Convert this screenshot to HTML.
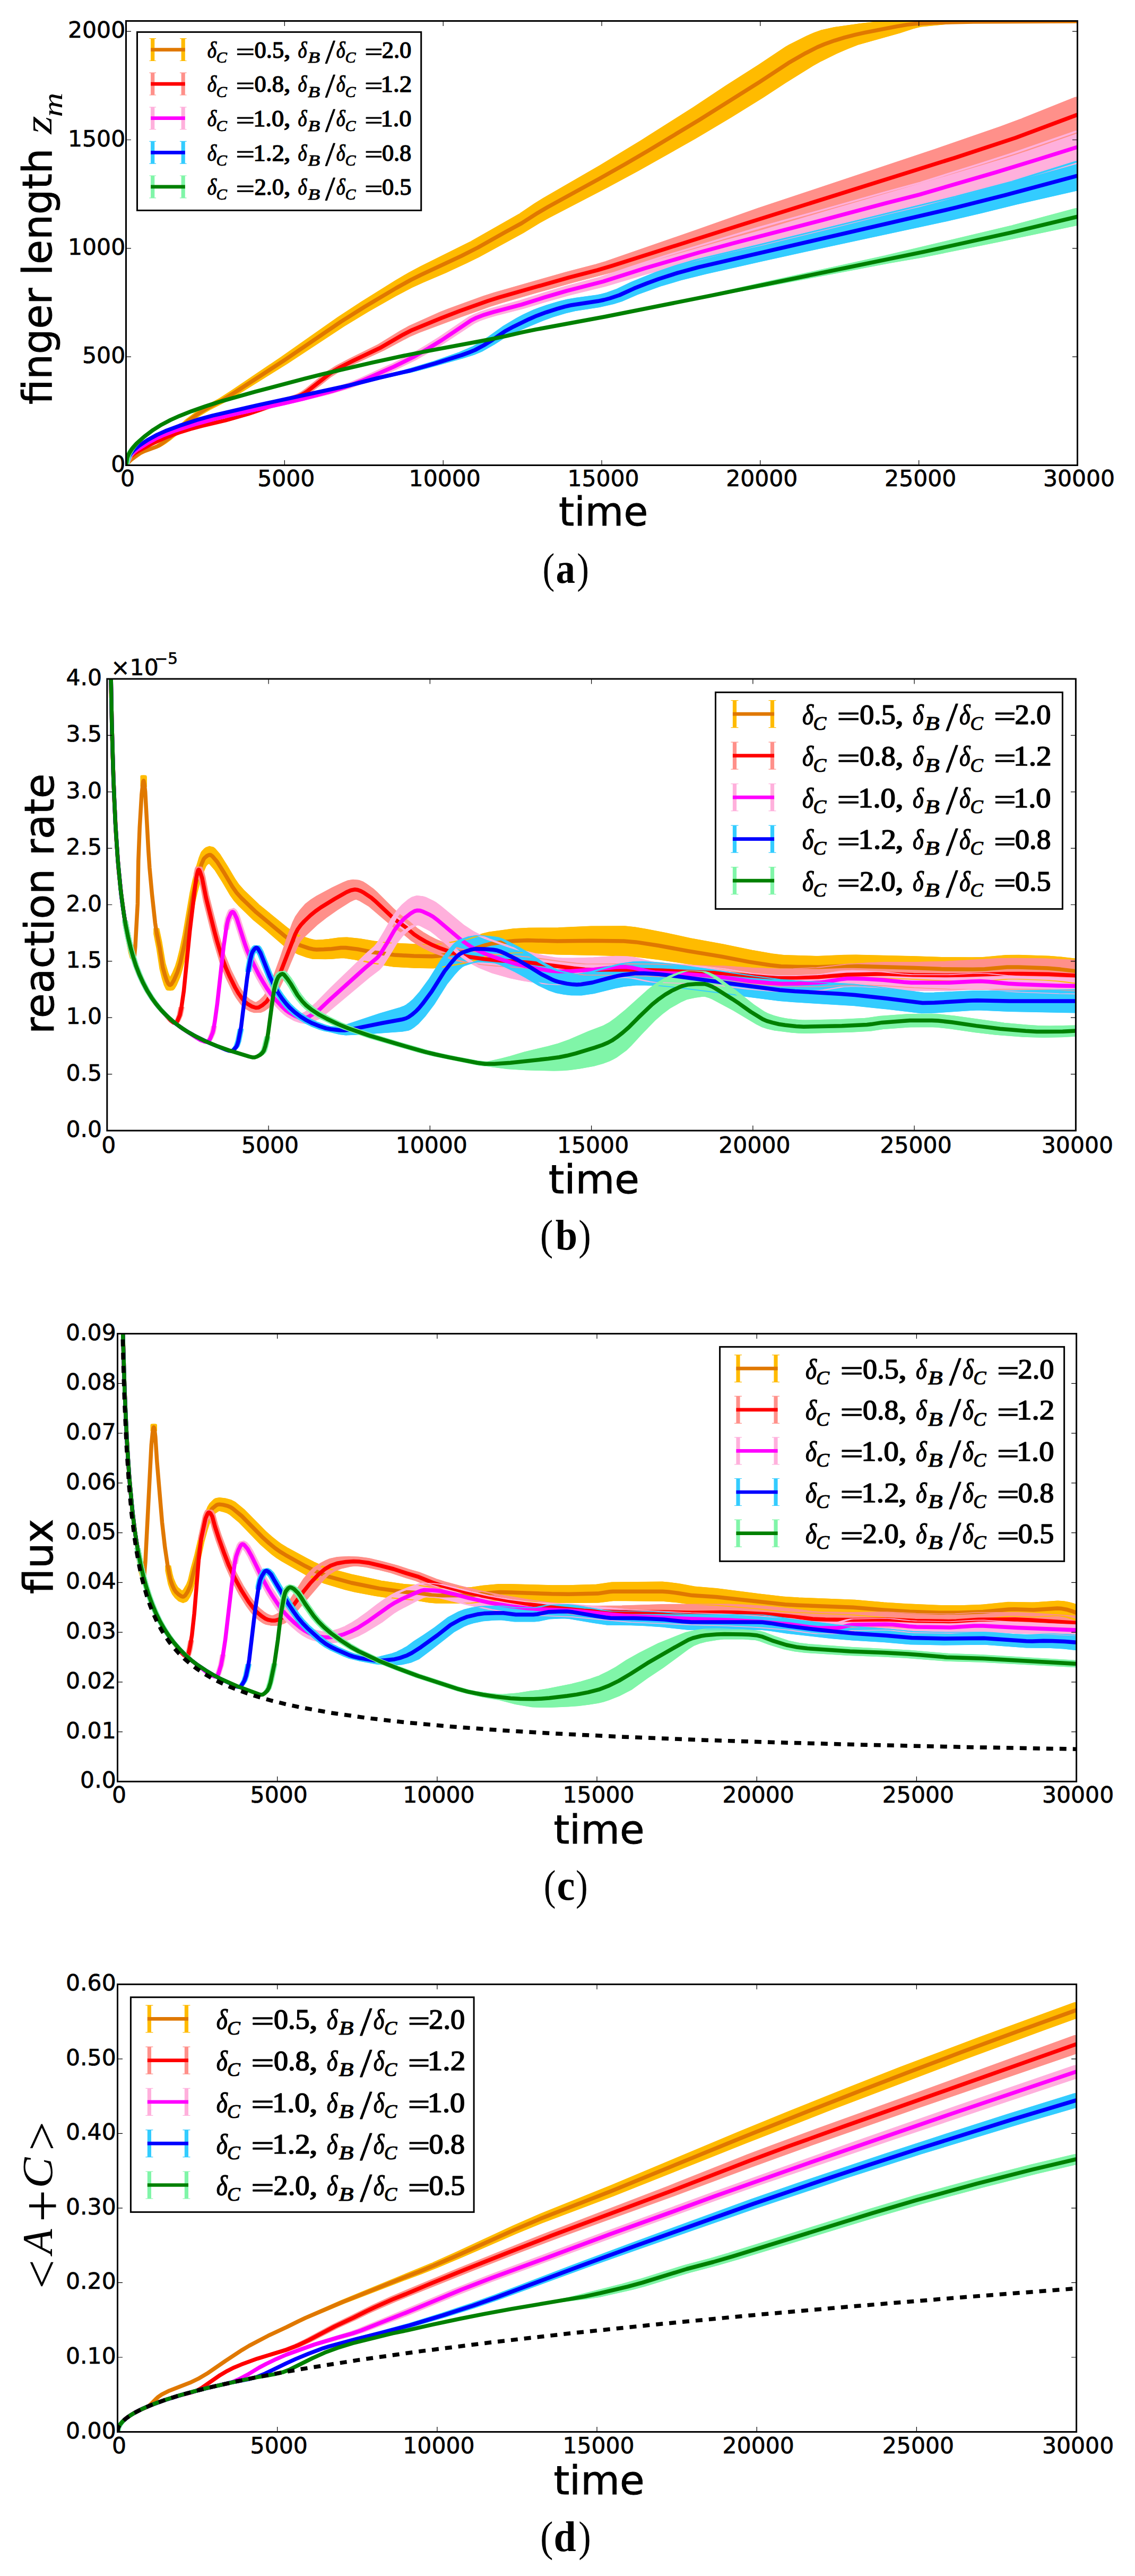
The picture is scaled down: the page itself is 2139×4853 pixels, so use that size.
<!DOCTYPE html><html><head><meta charset="utf-8"><title>figure</title><style>html,body{margin:0;padding:0;background:#fff}svg{display:block}text{font-family:"DejaVu Sans","Liberation Sans",sans-serif;fill:#000}.tk{font-size:42.5px;stroke:#000;stroke-width:.7px}.lab{font-size:75px;stroke:#000;stroke-width:.9px}.ylab{font-size:76px;stroke:#000;stroke-width:.9px}.mi{font-family:"Liberation Serif","DejaVu Serif",serif;font-style:italic}.mr{font-family:"Liberation Serif","DejaVu Serif",serif}.mt{font-family:"Liberation Serif","DejaVu Serif",serif;font-style:italic}.mn{font-family:"Liberation Serif","DejaVu Serif",serif}.cap{font-family:"Liberation Serif","DejaVu Serif",serif;font-size:81px}</style></head><body>
<svg width="2139" height="4853" viewBox="0 0 2139 4853">
<rect width="2139" height="4853" fill="#fff"/>
<defs>
<clipPath id="clipa"><rect x="237.5" y="39.5" width="1793.0" height="837.0"/></clipPath>
<clipPath id="clipb"><rect x="201.8" y="1279.0" width="1825.6000000000001" height="851.0"/></clipPath>
<clipPath id="clipc"><rect x="221.5" y="2512.6" width="1807.1" height="843.7000000000003"/></clipPath>
<clipPath id="clipd"><rect x="221.5" y="3738.3" width="1807.1" height="843.1999999999998"/></clipPath>
</defs>
<!-- plot a -->
<defs><path id="ea0" d="M30.22,876.5L30.79,870.6L31.36,866.2L33.56,853.4L34.70,848.8L37.56,840.2L38.23,837.4L39.09,832.7L40.23,825.8L41.76,815.5L45.10,790.5L47.29,777.6L49.58,766L53.21,750.3L56.07,735.9L68.00,672.6L81.64,597.3L87.17,568.9L95.47,528.2L98.62,513.6L101.48,501.7L113.51,454.7L125.15,402.7L128.77,383.5L130.77,373.7L144.42,311.6L154.34,264.3L166.84,202.1L174.69,161.2L182.58,121.6L188.97,88.2L189.90,83.8L194.03,67.6L195.84,61.4L197.50,56.7L200.61,51.4L206.81,44.4L215.26,36.9L218.07,37L220.31,38.1L225.23,38.9L231.71,41.2L244.88,40.3L260.11,40L260.11,40L244.79,40.3L231.71,41.2L220.31,50.1L218.26,54.3L215.26,61.9L205.29,83.9L202.71,91.7L200.04,100.9L196.32,115.2L194.22,124.4L187.73,156.1L182.29,184.1L174.69,221.2L166.08,261.4L152.43,321.9L144.99,353.3L130.97,410.5L128.77,420.2L124.86,438.9L114.17,484.5L111.31,495.6L106.26,514L100.82,532.2L98.15,541.9L94.33,557.7L87.65,587.3L81.93,614.5L68.24,685.3L56.26,744.2L53.30,757.9L49.58,772.8L47.29,783.6L45.10,795.7L41.76,819.6L40.23,829.3L39.09,835.8L38.23,840.2L37.56,842.8L34.70,850.4L33.56,854.6L31.36,866.6L30.79,870.8L30.22,876.5Z"/><path id="ea1" d="M30.22,876.5L30.60,868.6L30.98,863L31.46,858.8L32.32,853.6L33.36,848.4L36.13,836.6L38.04,829.3L40.14,822.2L42.91,813.9L45.67,806.9L54.07,790L59.51,777.3L62.27,769.8L67.81,752.9L70.86,745.1L72.10,741.2L72.96,737.3L73.91,732L79.16,698.9L81.16,689L84.50,675.1L91.05,649.8L96.62,623L98.62,614.2L106.06,588L108.07,581.7L116.46,557.8L119.04,551.2L136.31,512.5L143.37,498.1L145.75,492.4L167.79,432.6L182.29,392.3L224.85,280.8L240.40,238.4L245.45,223.7L258.33,183.1L260.11,183.1L260.11,249.1L258.33,249.1L245.64,284.1L240.68,296.7L226.47,330.6L197.50,396.7L182.29,432.3L172.85,452.7L146.23,513L136.98,532L128.68,550.3L119.71,570.7L116.85,577.8L110.17,596.5L99.86,626.8L97.57,634.5L91.47,660.2L84.31,686.1L80.50,701.3L78.78,710L76.30,725.4L73.63,741.1L72.67,745.9L71.91,748.8L70.86,751.8L68.00,758.4L62.46,774.3L60.08,780.5L54.45,793L47.87,804.9L45.00,810.8L41.38,820.1L38.04,830.6L34.32,844.9L32.79,851.5L31.74,857.1L31.27,860.4L30.88,864.2L30.22,876.5Z"/><path id="ea2" d="M30.22,876.5L30.69,865.5L31.07,859.8L31.65,854.6L32.70,847.9L35.18,835.5L37.28,826.2L39.38,818.6L41.86,810.9L46.63,798.6L52.35,786L56.45,778.2L68.09,757.4L75.84,741.9L82.21,726.7L84.41,720.5L86.79,712.8L94.52,685.3L99.10,667.2L102.73,650.4L105.87,635L112.93,597.2L114.17,592.1L115.89,586.8L118.28,580.9L125.15,566.1L130.49,552.6L135.93,539.6L144.27,522.2L151.96,501.5L159.97,481.1L182.29,428L197.56,394.8L212.16,362.2L221.12,343L235.82,306.8L243.13,288.2L258.33,247L260.11,247L260.11,307L258.33,307L236.39,355L219.88,389.8L212.35,403.7L197.56,432.8L182.29,462L172.85,478.4L166.74,490.5L154.15,517.2L144.89,538.9L136.02,556.1L130.58,568.2L125.05,581.3L118.37,594.6L116.27,599.4L114.36,604.7L113.03,609.8L105.78,647.4L102.63,662.4L99.10,678.3L94.33,696.5L87.84,718.4L83.45,731.3L78.21,743.2L69.14,760.5L52.26,789.1L46.53,801L41.86,812.4L39.38,819.8L37.28,827.2L35.18,836.1L32.70,848.2L31.65,854.8L31.07,859.9L30.69,865.5L30.22,876.5Z"/><path id="ea3" d="M30.22,876.5L30.69,863.7L31.07,857.2L31.74,850.7L33.17,840.7L35.18,829.9L37.28,820.4L39.18,813.4L42.14,804.3L46.34,792.7L50.44,783.5L61.61,762.6L84.03,723.7L98.15,695.6L104.54,680.4L110.64,663.7L113.98,652.5L115.41,646.2L117.70,634.4L121.23,614.5L124.48,599.2L126.10,592.5L128.49,583.6L131.63,574.7L134.59,567.8L136.50,564.1L138.41,561.5L143.46,556.1L144.51,554.5L146.04,551.2L148.52,544.3L151.96,531.3L157.77,512.6L162.07,500.9L167.09,489.2L182.29,460.9L229.52,369.6L243.13,341.2L258.33,304L260.11,304L260.11,358L258.33,358L243.13,385.2L234.77,401.5L226.47,416.7L197.50,465.6L182.29,491.9L168.65,516.2L162.64,528L158.06,538.6L152.24,555.1L148.52,567.8L146.52,572.8L143.18,578.6L137.26,585.9L134.97,590.2L131.92,597.6L129.63,604L122.47,627.6L121.04,633.2L117.99,648.6L114.94,662.2L113.12,668.2L110.64,674.6L101.68,694.3L98.43,700.9L91.05,713.4L82.88,729.3L63.04,762.2L55.12,776.2L48.92,787.9L43.86,800.2L39.95,811.6L37.85,818.6L35.75,827.5L33.56,838.7L32.22,847.2L31.55,852.3L31.17,856.1L30.69,863.8L30.22,876.5Z"/><path id="ea4" d="M30.22,876.5L30.41,866.3L30.69,858.4L31.36,849L32.32,839.2L33.65,828.9L35.56,816.6L37.37,806.6L39.18,798.1L41.09,790.4L43.10,783.4L45.86,774.8L48.53,767.4L54.16,753.3L63.23,733.7L76.39,706.7L89.65,682.4L95.19,672.9L101.48,662.9L118.56,637.7L129.25,619.6L146.52,594.4L159.48,574.1L166.74,561.7L182.29,534.2L212.71,481.7L243.13,424.8L258.33,392.8L260.11,392.8L260.11,423.6L258.33,423.6L238.77,456L220.31,485.4L212.71,495.7L182.29,541.2L159.48,574.1L144.32,597.7L128.77,620.3L118.56,637.7L101.58,662.8L95.38,672.6L89.37,682.9L74.96,709.4L61.99,736.3L52.83,756.4L46.15,774L43.29,782.7L41.19,790L38.80,799.8L36.80,809.6L34.70,821.9L32.79,835.2L31.74,844.7L30.79,856.8L30.50,862.7L30.22,876.5Z"/></defs><g clip-path="url(#clipa)"><g transform="scale(7.86,1)" stroke-linejoin="round"><use href="#ea0" fill="#FFBB00" stroke="#FFBB00" stroke-width="1.145"/><use href="#ea1" fill="#FF908A" stroke="#FF908A" stroke-width="1.145"/><use href="#ea2" fill="#FFB0DC" stroke="#FFB0DC" stroke-width="1.145"/><use href="#ea3" fill="#33CCFF" stroke="#33CCFF" stroke-width="1.145"/><use href="#ea4" fill="#80F5A8" stroke="#80F5A8" stroke-width="1.145"/></g><use href="#ea0" transform="scale(7.86,1)" fill="none" stroke="#FFBB00" stroke-width="1.4"/><path d="M237.5,876.5L242,870.7L246.5,866.4L263.7,854L272.7,849.6L295.2,841.5L300.5,838.8L307.2,834.3L316.2,827.6L328.2,817.5L354.5,793.1L371.7,780.6L389.7,769.4L419,753.9L441.5,740L536.3,678.3L642.4,606.1L686.7,578.3L746.7,542.6L773.7,527.6L793.2,517.9L869.7,482.1L900.4,466.5L951.4,437.8L982.9,420.6L1012.9,401.4L1032.4,390L1129.9,336.5L1179.4,308.6L1221.4,284L1318.1,225.8L1431.3,154.6L1486.1,118.6L1518.3,100.1L1540.1,89L1553.6,83.3L1573.1,76.3L1591.8,70.6L1612.1,65.3L1630.1,61.4L1689.3,49.9L1710.3,46.4L1724.5,44.7L1759,42.8L1834.8,41L2044.5,40" fill="none" stroke="#E07800" stroke-width="7.5" stroke-linejoin="round" stroke-linecap="butt"/><use href="#ea1" transform="scale(7.86,1)" fill="none" stroke="#FF908A" stroke-width="1.4"/><path d="M237.5,876.5L240.5,868.6L243.5,863L247.2,858.9L254,853.7L262.2,848.7L284,837.1L299,830L315.5,822.9L337.2,814.9L359,808.1L381.5,802.2L425,791.8L467.7,779.6L489.5,772.3L533.7,755.6L557.7,748.2L566.7,744.7L573.5,741L581,735.7L622.2,703.4L630.4,698L640.9,692.1L664.9,679.9L715.9,655.7L759.4,630.6L774.4,622.8L832.2,599L866.7,585.8L919.2,567L940.2,560.4L1072.1,522.8L1126.1,508.9L1153.1,500.9L1388.6,426.2L1799.5,297.3L1914.3,259.5L2030.5,216.1L2044.5,216.1" fill="none" stroke="#FF0000" stroke-width="7.5" stroke-linejoin="round" stroke-linecap="butt"/><use href="#ea2" transform="scale(7.86,1)" fill="none" stroke="#FFB0DC" stroke-width="1.4"/><path d="M237.5,876.5L241.2,865.5L244.2,859.8L248.7,854.7L257,848L276.5,835.8L293,826.7L309.5,819.2L329,811.7L366.5,799.7L411.5,787.5L443.7,779.9L536.3,759.6L571.2,751.3L600.4,743.7L627.4,736.3L649.2,729.6L666.4,723.5L685.9,715.7L742.2,690.9L778.9,672.7L807.4,656.2L832.2,641L887.7,603.7L898.2,598.4L912.4,593.1L929.7,587.8L982.9,573.8L1026.4,560.2L1068.4,547.9L1136.6,530.4L1215.4,505.4L1318.1,475.5L1383.3,457.8L1549.1,414.8L1669.1,382.8L1732.8,366.6L1876.8,324.6L1955.5,300.5L2030.5,277L2044.5,277" fill="none" stroke="#FF00FF" stroke-width="7.5" stroke-linejoin="round" stroke-linecap="butt"/><use href="#ea3" transform="scale(7.86,1)" fill="none" stroke="#33CCFF" stroke-width="1.4"/><path d="M237.5,876.5L241.2,863.7L242.7,859.9L245,856.1L248,852.3L253.2,847.1L262.2,839.7L279.5,828.2L296,819.1L311.7,812.1L338.7,801.9L371,791.2L400.2,783.2L485.7,763.3L658.2,726L715.2,711.5L773.7,698L820.9,684.4L870.4,668.9L883.2,664.3L895.2,659.4L911.7,650.5L928.2,640.2L951.4,624.3L967.9,615.3L997.1,601.2L1011.4,594.9L1029.4,588.3L1050.4,581.7L1064.6,577.6L1075.9,575L1126.9,567.3L1138.1,565L1149.4,562L1167.4,556L1195.1,543.3L1219.1,533.7L1240.9,525.7L1276.1,514.4L1316.6,503.4L1801,391.2L1893.3,367.9L2030.5,331L2044.5,331" fill="none" stroke="#0000FF" stroke-width="7.5" stroke-linejoin="round" stroke-linecap="butt"/><use href="#ea4" transform="scale(7.86,1)" fill="none" stroke="#80F5A8" stroke-width="1.4"/><path d="M237.5,876.5L239.7,862.7L242,856.8L245,851.4L249.5,844.7L257.7,835.2L272,822.5L288.5,810.1L304.2,800.2L321.5,791.1L338.7,783.4L361.2,774.6L386.7,765.6L413,757.1L481.2,737.9L575,713.1L607.9,704.9L700.2,683.4L758.7,670.7L802.9,661.9L925.2,639L953.7,633.2L983.6,626.2L1009.1,620.9L1139.6,596.7L1339.8,556.9L1741,474.4L1904.5,438.3L2030.5,408.2L2044.5,408.2" fill="none" stroke="#008000" stroke-width="7.5" stroke-linejoin="round" stroke-linecap="butt"/></g>
<rect x="237.5" y="39.5" width="1793.0" height="837.0" fill="none" stroke="#000" stroke-width="3"/><path d="M237.5,876.5v-9.5M237.5,39.5v9.5M536.3,876.5v-9.5M536.3,39.5v9.5M835.2,876.5v-9.5M835.2,39.5v9.5M1134.0,876.5v-9.5M1134.0,39.5v9.5M1432.8,876.5v-9.5M1432.8,39.5v9.5M1731.7,876.5v-9.5M1731.7,39.5v9.5M2030.5,876.5v-9.5M2030.5,39.5v9.5M237.5,876.5h9.5M2030.5,876.5h-9.5M237.5,672.2h9.5M2030.5,672.2h-9.5M237.5,467.8h9.5M2030.5,467.8h-9.5M237.5,263.5h9.5M2030.5,263.5h-9.5M237.5,59.2h9.5M2030.5,59.2h-9.5" stroke="#000" stroke-width="1.2" fill="none"/>
<g class="tk"><text x="240.5" y="916.0" text-anchor="middle">0</text><text x="539.3" y="916.0" text-anchor="middle">5000</text><text x="838.2" y="916.0" text-anchor="middle">10000</text><text x="1137.0" y="916.0" text-anchor="middle">15000</text><text x="1435.8" y="916.0" text-anchor="middle">20000</text><text x="1734.7" y="916.0" text-anchor="middle">25000</text><text x="2033.5" y="916.0" text-anchor="middle">30000</text><text x="236.2" y="888.5" text-anchor="end">0</text><text x="236.2" y="684.2" text-anchor="end">500</text><text x="236.2" y="479.8" text-anchor="end">1000</text><text x="236.2" y="275.5" text-anchor="end">1500</text><text x="236.2" y="71.2" text-anchor="end">2000</text></g>
<rect x="258.5" y="60.4" width="535.2" height="336.0" fill="#fff" stroke="#000" stroke-width="3"/><path d="M287.7,72.7V114.5" stroke="#FFBB00" stroke-width="7.2"/><path d="M281.4,72.7h12.7M281.4,114.5h12.7" stroke="#FFBB00" stroke-width="1.2"/><path d="M345.2,72.7V114.5" stroke="#FFBB00" stroke-width="7.2"/><path d="M338.9,72.7h12.7M338.9,114.5h12.7" stroke="#FFBB00" stroke-width="1.2"/><path d="M284.1,93.6H348.8" stroke="#E07800" stroke-width="6.7"/><text x="390.8" y="108.9" font-size="43.4" class="mi" stroke="#000" stroke-width="1.15" stroke-linejoin="round" textLength="17.3" lengthAdjust="spacingAndGlyphs">δ</text><text x="407.5" y="118.1" font-size="29.1" class="mi" stroke="#000" stroke-width="0.90" stroke-linejoin="round" textLength="20.3" lengthAdjust="spacingAndGlyphs">C</text><text x="444.5" y="111.7" font-size="43.4" class="mr" stroke="#000" stroke-width="1.07" stroke-linejoin="round" textLength="35.5" lengthAdjust="spacingAndGlyphs">=</text><text x="479.6" y="108.9" font-size="43.4" class="mr" stroke="#000" stroke-width="1.40" stroke-linejoin="round" textLength="55.5" lengthAdjust="spacingAndGlyphs">0.5</text><text x="534.7" y="108.9" font-size="43.4" class="mr" stroke="#000" stroke-width="1.40" stroke-linejoin="round" textLength="12.8" lengthAdjust="spacingAndGlyphs">,</text><text x="561.6" y="108.9" font-size="43.4" class="mi" stroke="#000" stroke-width="1.15" stroke-linejoin="round" textLength="16.9" lengthAdjust="spacingAndGlyphs">δ</text><text x="580.2" y="118.1" font-size="29.1" class="mi" stroke="#000" stroke-width="0.90" stroke-linejoin="round" textLength="22.8" lengthAdjust="spacingAndGlyphs">B</text><text x="613.1" y="118.7" font-size="63.2" class="mr" stroke="#000" stroke-width="0.82" stroke-linejoin="round" textLength="18.5" lengthAdjust="spacingAndGlyphs">/</text><text x="633.8" y="108.9" font-size="43.4" class="mi" stroke="#000" stroke-width="1.15" stroke-linejoin="round" textLength="16.8" lengthAdjust="spacingAndGlyphs">δ</text><text x="650.5" y="118.1" font-size="29.1" class="mi" stroke="#000" stroke-width="0.90" stroke-linejoin="round" textLength="19.9" lengthAdjust="spacingAndGlyphs">C</text><text x="687.2" y="111.7" font-size="43.4" class="mr" stroke="#000" stroke-width="1.07" stroke-linejoin="round" textLength="34.1" lengthAdjust="spacingAndGlyphs">=</text><text x="719.7" y="108.9" font-size="43.4" class="mr" stroke="#000" stroke-width="1.40" stroke-linejoin="round" textLength="55.7" lengthAdjust="spacingAndGlyphs">2.0</text><path d="M287.7,137.2V179.0" stroke="#FF908A" stroke-width="7.2"/><path d="M281.4,137.2h12.7M281.4,179.0h12.7" stroke="#FF908A" stroke-width="1.2"/><path d="M345.2,137.2V179.0" stroke="#FF908A" stroke-width="7.2"/><path d="M338.9,137.2h12.7M338.9,179.0h12.7" stroke="#FF908A" stroke-width="1.2"/><path d="M284.1,158.1H348.8" stroke="#FF0000" stroke-width="6.7"/><text x="390.8" y="173.4" font-size="43.4" class="mi" stroke="#000" stroke-width="1.15" stroke-linejoin="round" textLength="17.3" lengthAdjust="spacingAndGlyphs">δ</text><text x="407.5" y="182.6" font-size="29.1" class="mi" stroke="#000" stroke-width="0.90" stroke-linejoin="round" textLength="20.3" lengthAdjust="spacingAndGlyphs">C</text><text x="444.5" y="176.2" font-size="43.4" class="mr" stroke="#000" stroke-width="1.07" stroke-linejoin="round" textLength="35.5" lengthAdjust="spacingAndGlyphs">=</text><text x="479.6" y="173.4" font-size="43.4" class="mr" stroke="#000" stroke-width="1.40" stroke-linejoin="round" textLength="55.4" lengthAdjust="spacingAndGlyphs">0.8</text><text x="534.7" y="173.4" font-size="43.4" class="mr" stroke="#000" stroke-width="1.40" stroke-linejoin="round" textLength="12.8" lengthAdjust="spacingAndGlyphs">,</text><text x="561.6" y="173.4" font-size="43.4" class="mi" stroke="#000" stroke-width="1.15" stroke-linejoin="round" textLength="16.9" lengthAdjust="spacingAndGlyphs">δ</text><text x="580.2" y="182.6" font-size="29.1" class="mi" stroke="#000" stroke-width="0.90" stroke-linejoin="round" textLength="22.8" lengthAdjust="spacingAndGlyphs">B</text><text x="613.1" y="183.2" font-size="63.2" class="mr" stroke="#000" stroke-width="0.82" stroke-linejoin="round" textLength="18.5" lengthAdjust="spacingAndGlyphs">/</text><text x="633.8" y="173.4" font-size="43.4" class="mi" stroke="#000" stroke-width="1.15" stroke-linejoin="round" textLength="16.8" lengthAdjust="spacingAndGlyphs">δ</text><text x="650.5" y="182.6" font-size="29.1" class="mi" stroke="#000" stroke-width="0.90" stroke-linejoin="round" textLength="19.9" lengthAdjust="spacingAndGlyphs">C</text><text x="687.2" y="176.2" font-size="43.4" class="mr" stroke="#000" stroke-width="1.07" stroke-linejoin="round" textLength="34.1" lengthAdjust="spacingAndGlyphs">=</text><text x="717.5" y="173.4" font-size="43.4" class="mr" stroke="#000" stroke-width="1.40" stroke-linejoin="round" textLength="58.8" lengthAdjust="spacingAndGlyphs">1.2</text><path d="M287.7,201.8V243.6" stroke="#FFB0DC" stroke-width="7.2"/><path d="M281.4,201.8h12.7M281.4,243.6h12.7" stroke="#FFB0DC" stroke-width="1.2"/><path d="M345.2,201.8V243.6" stroke="#FFB0DC" stroke-width="7.2"/><path d="M338.9,201.8h12.7M338.9,243.6h12.7" stroke="#FFB0DC" stroke-width="1.2"/><path d="M284.1,222.7H348.8" stroke="#FF00FF" stroke-width="6.7"/><text x="390.8" y="238.0" font-size="43.4" class="mi" stroke="#000" stroke-width="1.15" stroke-linejoin="round" textLength="17.3" lengthAdjust="spacingAndGlyphs">δ</text><text x="407.5" y="247.2" font-size="29.1" class="mi" stroke="#000" stroke-width="0.90" stroke-linejoin="round" textLength="20.3" lengthAdjust="spacingAndGlyphs">C</text><text x="444.5" y="240.8" font-size="43.4" class="mr" stroke="#000" stroke-width="1.07" stroke-linejoin="round" textLength="35.5" lengthAdjust="spacingAndGlyphs">=</text><text x="477.2" y="238.0" font-size="43.4" class="mr" stroke="#000" stroke-width="1.40" stroke-linejoin="round" textLength="57.9" lengthAdjust="spacingAndGlyphs">1.0</text><text x="534.7" y="238.0" font-size="43.4" class="mr" stroke="#000" stroke-width="1.40" stroke-linejoin="round" textLength="12.8" lengthAdjust="spacingAndGlyphs">,</text><text x="561.6" y="238.0" font-size="43.4" class="mi" stroke="#000" stroke-width="1.15" stroke-linejoin="round" textLength="16.9" lengthAdjust="spacingAndGlyphs">δ</text><text x="580.2" y="247.2" font-size="29.1" class="mi" stroke="#000" stroke-width="0.90" stroke-linejoin="round" textLength="22.8" lengthAdjust="spacingAndGlyphs">B</text><text x="613.1" y="247.8" font-size="63.2" class="mr" stroke="#000" stroke-width="0.82" stroke-linejoin="round" textLength="18.5" lengthAdjust="spacingAndGlyphs">/</text><text x="633.8" y="238.0" font-size="43.4" class="mi" stroke="#000" stroke-width="1.15" stroke-linejoin="round" textLength="16.8" lengthAdjust="spacingAndGlyphs">δ</text><text x="650.5" y="247.2" font-size="29.1" class="mi" stroke="#000" stroke-width="0.90" stroke-linejoin="round" textLength="19.9" lengthAdjust="spacingAndGlyphs">C</text><text x="687.2" y="240.8" font-size="43.4" class="mr" stroke="#000" stroke-width="1.07" stroke-linejoin="round" textLength="34.1" lengthAdjust="spacingAndGlyphs">=</text><text x="717.6" y="238.0" font-size="43.4" class="mr" stroke="#000" stroke-width="1.40" stroke-linejoin="round" textLength="57.9" lengthAdjust="spacingAndGlyphs">1.0</text><path d="M287.7,266.4V308.2" stroke="#33CCFF" stroke-width="7.2"/><path d="M281.4,266.4h12.7M281.4,308.2h12.7" stroke="#33CCFF" stroke-width="1.2"/><path d="M345.2,266.4V308.2" stroke="#33CCFF" stroke-width="7.2"/><path d="M338.9,266.4h12.7M338.9,308.2h12.7" stroke="#33CCFF" stroke-width="1.2"/><path d="M284.1,287.3H348.8" stroke="#0000FF" stroke-width="6.7"/><text x="390.8" y="302.6" font-size="43.4" class="mi" stroke="#000" stroke-width="1.15" stroke-linejoin="round" textLength="17.3" lengthAdjust="spacingAndGlyphs">δ</text><text x="407.5" y="311.8" font-size="29.1" class="mi" stroke="#000" stroke-width="0.90" stroke-linejoin="round" textLength="20.3" lengthAdjust="spacingAndGlyphs">C</text><text x="444.5" y="305.4" font-size="43.4" class="mr" stroke="#000" stroke-width="1.07" stroke-linejoin="round" textLength="35.5" lengthAdjust="spacingAndGlyphs">=</text><text x="477.2" y="302.6" font-size="43.4" class="mr" stroke="#000" stroke-width="1.40" stroke-linejoin="round" textLength="58.8" lengthAdjust="spacingAndGlyphs">1.2</text><text x="534.7" y="302.6" font-size="43.4" class="mr" stroke="#000" stroke-width="1.40" stroke-linejoin="round" textLength="12.8" lengthAdjust="spacingAndGlyphs">,</text><text x="561.6" y="302.6" font-size="43.4" class="mi" stroke="#000" stroke-width="1.15" stroke-linejoin="round" textLength="16.9" lengthAdjust="spacingAndGlyphs">δ</text><text x="580.2" y="311.8" font-size="29.1" class="mi" stroke="#000" stroke-width="0.90" stroke-linejoin="round" textLength="22.8" lengthAdjust="spacingAndGlyphs">B</text><text x="613.1" y="312.4" font-size="63.2" class="mr" stroke="#000" stroke-width="0.82" stroke-linejoin="round" textLength="18.5" lengthAdjust="spacingAndGlyphs">/</text><text x="633.8" y="302.6" font-size="43.4" class="mi" stroke="#000" stroke-width="1.15" stroke-linejoin="round" textLength="16.8" lengthAdjust="spacingAndGlyphs">δ</text><text x="650.5" y="311.8" font-size="29.1" class="mi" stroke="#000" stroke-width="0.90" stroke-linejoin="round" textLength="19.9" lengthAdjust="spacingAndGlyphs">C</text><text x="687.2" y="305.4" font-size="43.4" class="mr" stroke="#000" stroke-width="1.07" stroke-linejoin="round" textLength="34.1" lengthAdjust="spacingAndGlyphs">=</text><text x="719.9" y="302.6" font-size="43.4" class="mr" stroke="#000" stroke-width="1.40" stroke-linejoin="round" textLength="55.4" lengthAdjust="spacingAndGlyphs">0.8</text><path d="M287.7,331.0V372.8" stroke="#80F5A8" stroke-width="7.2"/><path d="M281.4,331.0h12.7M281.4,372.8h12.7" stroke="#80F5A8" stroke-width="1.2"/><path d="M345.2,331.0V372.8" stroke="#80F5A8" stroke-width="7.2"/><path d="M338.9,331.0h12.7M338.9,372.8h12.7" stroke="#80F5A8" stroke-width="1.2"/><path d="M284.1,351.9H348.8" stroke="#008000" stroke-width="6.7"/><text x="390.8" y="367.2" font-size="43.4" class="mi" stroke="#000" stroke-width="1.15" stroke-linejoin="round" textLength="17.3" lengthAdjust="spacingAndGlyphs">δ</text><text x="407.5" y="376.4" font-size="29.1" class="mi" stroke="#000" stroke-width="0.90" stroke-linejoin="round" textLength="20.3" lengthAdjust="spacingAndGlyphs">C</text><text x="444.5" y="370.0" font-size="43.4" class="mr" stroke="#000" stroke-width="1.07" stroke-linejoin="round" textLength="35.5" lengthAdjust="spacingAndGlyphs">=</text><text x="479.4" y="367.2" font-size="43.4" class="mr" stroke="#000" stroke-width="1.40" stroke-linejoin="round" textLength="55.7" lengthAdjust="spacingAndGlyphs">2.0</text><text x="534.7" y="367.2" font-size="43.4" class="mr" stroke="#000" stroke-width="1.40" stroke-linejoin="round" textLength="12.8" lengthAdjust="spacingAndGlyphs">,</text><text x="561.6" y="367.2" font-size="43.4" class="mi" stroke="#000" stroke-width="1.15" stroke-linejoin="round" textLength="16.9" lengthAdjust="spacingAndGlyphs">δ</text><text x="580.2" y="376.4" font-size="29.1" class="mi" stroke="#000" stroke-width="0.90" stroke-linejoin="round" textLength="22.8" lengthAdjust="spacingAndGlyphs">B</text><text x="613.1" y="377.0" font-size="63.2" class="mr" stroke="#000" stroke-width="0.82" stroke-linejoin="round" textLength="18.5" lengthAdjust="spacingAndGlyphs">/</text><text x="633.8" y="367.2" font-size="43.4" class="mi" stroke="#000" stroke-width="1.15" stroke-linejoin="round" textLength="16.8" lengthAdjust="spacingAndGlyphs">δ</text><text x="650.5" y="376.4" font-size="29.1" class="mi" stroke="#000" stroke-width="0.90" stroke-linejoin="round" textLength="19.9" lengthAdjust="spacingAndGlyphs">C</text><text x="687.2" y="370.0" font-size="43.4" class="mr" stroke="#000" stroke-width="1.07" stroke-linejoin="round" textLength="34.1" lengthAdjust="spacingAndGlyphs">=</text><text x="719.9" y="367.2" font-size="43.4" class="mr" stroke="#000" stroke-width="1.40" stroke-linejoin="round" textLength="55.5" lengthAdjust="spacingAndGlyphs">0.5</text>
<text class="ylab" font-size="75" transform="translate(96.5,760.3) rotate(-90)" x="-1.7" textLength="482.4" lengthAdjust="spacingAndGlyphs">finger length</text>
<text class="mt" font-size="74" transform="translate(96.5,253.5) rotate(-90)" x="1.0" textLength="34.1" lengthAdjust="spacingAndGlyphs">z</text>
<text class="mt" font-size="53" transform="translate(117,218.3) rotate(-90)" x="-2.3" textLength="45.9" lengthAdjust="spacingAndGlyphs">m</text>
<text class="lab" x="1053.0" y="990" textLength="168.2" lengthAdjust="spacingAndGlyphs">time</text>
<!-- plot b -->
<defs><path id="eb0" d="M29.95,1734.5L31.48,1795.3L31.86,1805.2L32.05,1807.2L32.15,1806.5L32.05,1807.2L31.86,1805.2L31.48,1795.3L29.95,1734.5ZM34.34,1462.6L34.42,1460.9L34.53,1463.5L34.53,1482.8L34.44,1480.9L34.34,1481.7ZM37.49,1748.7L38.17,1774.1L39.02,1814.3L39.68,1832L40.16,1841.5L40.54,1845.4L40.73,1845.8L40.92,1845.4L41.40,1841.3L41.97,1832.5L42.64,1820.2L43.12,1807.8L43.69,1789.8L44.45,1761.1L46.17,1681.5L46.84,1657.3L47.51,1637.2L48.36,1615.2L48.84,1605.8L49.03,1603.5L49.61,1598.7L49.99,1596.5L50.32,1595.5L50.56,1596L50.94,1598.3L52.09,1608.8L53.90,1631.3L55.71,1655.4L56.71,1666.7L57.90,1677L61.53,1704.4L68.21,1747L69.35,1753.6L70.78,1759.9L72.02,1764.3L74.03,1769.2L75.17,1771.1L75.84,1771.4L77.46,1770.7L79.37,1769.3L81.75,1766.6L82.99,1766.3L85.76,1768.4L89.19,1773L94.25,1777L99.88,1779.2L103.88,1779.6L106.65,1777.3L111.32,1770.4L112.85,1767.3L116.28,1758.8L117.81,1755.8L123.44,1749.9L126.97,1748.4L134.06,1748L141.81,1745.2L149.55,1745L151.67,1746.7L154.44,1750.4L159.02,1757.3L165.03,1767.7L172.85,1778.8L179.81,1790.2L184.87,1797.1L187.54,1799.6L196.00,1801.7L202.52,1799.5L205.19,1799.3L219.50,1802L225.60,1803.6L232.85,1804L236.00,1803.6L241.44,1799.7L244.20,1799.5L251.26,1801.3L254.31,1803.3L257.94,1806.6L259.72,1806.6L259.72,1852.6L257.94,1852.6L254.22,1848.9L251.17,1846.8L244.11,1844.6L241.44,1844.6L236.19,1848.1L233.52,1848.4L225.89,1847.5L219.40,1845L204.42,1840.4L194.12,1841.9L187.16,1841.6L184.68,1839.8L180.00,1834.6L171.51,1823.2L158.83,1808.2L152.72,1802.3L150.81,1801.2L145.19,1799.8L133.84,1797.9L126.32,1794.5L122.87,1795.4L118.19,1799.3L116.47,1802.4L112.75,1811.5L111.23,1814.6L106.46,1821.5L103.60,1823.7L99.30,1823.1L94.82,1821.1L89.38,1814.5L85.76,1808.1L82.80,1804.6L81.66,1804.5L79.46,1806.1L77.94,1806.5L75.36,1806.2L74.12,1803.8L72.12,1798.1L70.88,1793.2L69.45,1786.3L68.49,1780.6L64.39,1752.7L61.34,1733.1L57.90,1707L56.76,1697.2L55.81,1686.6L53.90,1661.3L52.09,1638.8L50.85,1627.6L50.56,1626L50.18,1625.3L49.80,1625.9L49.41,1627.4L49.03,1629.5L48.75,1632.4L48.27,1641.2L47.22,1665.8L46.65,1682.4L46.08,1702.1L44.36,1782.3L43.50,1813.9L43.02,1828.7L42.55,1840.8L41.69,1856.5L41.21,1863L40.92,1865.2L40.73,1865.8L40.45,1864L39.97,1856L39.49,1843.8L38.92,1825.5L38.17,1786.8L37.49,1759.5Z"/><path id="eb1" d="M29.95,1734.5L30.53,1758.7L31.10,1778.7L31.77,1798.5L32.53,1817.6L33.29,1833.7L34.25,1850.5L35.20,1865L36.15,1877.3L37.29,1889.9L38.54,1901.9L41.02,1923.3L41.40,1925.8L41.78,1927.3L42.07,1927.5L42.26,1926.6L42.74,1920.2L43.12,1912L43.50,1896.9L43.50,1898.9L43.12,1913L42.64,1921.8L42.36,1925.7L42.16,1927.2L41.97,1927.6L41.69,1927.1L41.31,1925.3L40.92,1922.5L38.44,1901.1L37.20,1889.1L36.15,1877.3L35.20,1865L34.25,1850.5L33.29,1833.7L32.53,1817.6L31.77,1798.5L31.10,1778.7L30.53,1758.7L29.95,1734.5ZM47.12,1645.9L47.41,1636L47.63,1632.5L47.89,1634.9L48.27,1643L48.56,1651.4L49.41,1685.6L51.80,1759.2L53.33,1799L54.76,1826.9L56.66,1856.7L57.24,1864L58.29,1875.1L58.76,1879.2L59.27,1882.4L60.38,1887.3L61.24,1889.4L61.53,1889.5L61.91,1888.7L62.77,1884.5L63.82,1876.7L64.49,1868.4L65.92,1843.7L66.58,1830.3L67.82,1803.5L69.45,1765.6L70.78,1737.5L71.45,1726.6L72.50,1714.7L73.83,1702.9L75.17,1694.6L76.51,1687.8L80.23,1672.2L82.90,1662.1L83.95,1658.9L84.80,1657.7L85.57,1658.3L86.43,1660.9L87.28,1665.2L88.91,1674.4L89.76,1680.3L93.68,1711.2L95.20,1722.2L97.30,1734.2L99.40,1748.3L100.93,1756.4L102.45,1763.5L103.88,1769.1L105.50,1774.5L108.46,1783.2L109.99,1787.1L113.33,1792.4L117.62,1797L126.68,1802.8L133.84,1810.7L138.22,1814.7L140.32,1816.1L151.48,1815.8L157.97,1816.5L165.03,1818.9L173.33,1819.9L179.91,1823.3L186.68,1825.5L190.40,1824.9L196.13,1822.8L202.90,1816.5L208.81,1813.8L212.44,1812.7L218.83,1812.9L226.84,1811.5L239.91,1805.8L243.73,1805.5L250.50,1806.2L257.94,1808.9L259.72,1808.9L259.72,1866.9L257.94,1866.9L251.74,1864.4L247.06,1863.8L242.10,1863.5L235.81,1864.2L227.70,1863.6L218.92,1860.7L212.25,1857.2L207.95,1856.3L202.80,1856.1L196.41,1858.9L187.44,1858.2L184.87,1856.8L180.10,1853.2L172.95,1846.8L159.69,1840.3L152.05,1838.1L140.23,1836.8L138.13,1835.1L127.16,1824.1L119.15,1820.1L114.85,1816.7L111.32,1812.5L109.32,1808.7L105.12,1797.1L103.60,1792L102.07,1786.1L100.64,1779.6L99.22,1772.3L97.30,1759.7L94.72,1745.6L89.10,1707.8L86.71,1696.7L85.95,1694.4L85.28,1693.7L84.33,1695.3L83.28,1699.3L80.32,1714.2L77.65,1728.9L75.46,1742.4L71.93,1768.5L71.35,1774.3L70.78,1782.6L67.35,1846.3L66.30,1863.8L64.39,1893.1L63.82,1898.9L62.77,1904.8L62.01,1907.3L61.34,1907.4L60.57,1905.6L59.62,1901.2L58.95,1897.4L58.29,1891.7L57.24,1880.1L56.66,1872.6L54.76,1841.9L53.33,1813.5L51.80,1773L49.41,1698.3L48.56,1663.8L48.27,1655.3L47.89,1647L47.70,1644.7L47.60,1644.6L47.41,1647.5L47.12,1656.7Z"/><path id="eb2" d="M29.95,1734.5L30.62,1762.3L31.39,1787.6L32.24,1810.9L33.10,1829.9L34.25,1850.5L35.39,1867.6L36.73,1884L38.16,1898.5L40.16,1915.1L42.36,1929.7L43.79,1937.8L47.32,1956.1L48.08,1959.5L48.75,1961.7L49.70,1963L49.89,1962.4L50.18,1959.8L50.46,1955.7L50.96,1945.7L51.32,1932.7L51.32,1934.4L50.96,1946.7L50.46,1955.7L50.08,1960.9L49.89,1962.4L49.70,1963L49.22,1962.7L48.65,1961.5L47.98,1959.2L47.22,1955.6L43.79,1937.8L42.26,1929.1L40.07,1914.4L38.06,1897.6L36.63,1882.9L35.35,1867L34.15,1848.9L33.10,1829.9L32.24,1810.9L31.39,1787.6L30.62,1762.3L29.95,1734.5ZM54.28,1744.4L54.66,1729.5L55.14,1719.3L55.42,1714.9L55.61,1713.2L55.81,1712.7L56.00,1713.8L56.28,1717.1L56.76,1724.9L58.67,1771.8L59.72,1793.2L61.82,1826.5L63.72,1852L64.77,1864.1L65.82,1874.4L66.78,1882.5L68.30,1894.1L69.16,1899.4L70.30,1904.4L71.35,1908.3L72.12,1910L72.88,1909.3L73.74,1906.1L74.50,1901.6L76.41,1888.7L79.84,1861.1L87.09,1806L88.72,1793.9L90.34,1782.9L90.81,1778.6L91.29,1773.2L92.82,1753.1L94.53,1729L95.97,1713.4L97.01,1704.3L98.54,1694.2L99.40,1689.9L100.15,1688.1L100.83,1688.7L101.50,1690.3L103.21,1696.6L103.88,1699.7L105.03,1706.3L110.56,1742.3L112.85,1754.1L114.76,1762L116.86,1768.7L122.10,1783.4L124.39,1789.3L129.73,1799.9L132.69,1804.1L134.60,1805.2L137.56,1805.2L142.52,1804.1L147.67,1801.5L150.15,1801.8L151.77,1803.7L155.39,1810.8L157.02,1813.2L164.65,1817.6L168.65,1820.6L173.52,1825.2L180.20,1833.9L184.20,1836.9L186.78,1838.2L190.69,1838.2L196.22,1836.2L197.84,1834.7L201.94,1829.4L204.23,1828.4L207.19,1829.1L211.87,1831.2L216.73,1835.2L218.54,1836.2L227.60,1836.2L233.04,1833.9L235.14,1833.6L237.14,1834.4L241.72,1838L244.39,1839.2L253.74,1841.9L259.72,1842.7L259.72,1872.7L253.74,1871.9L244.39,1869.2L241.72,1868L237.14,1864.4L235.14,1863.6L233.04,1863.9L227.60,1866.2L218.54,1866.2L216.73,1865.2L211.87,1861.2L207.19,1859.1L204.23,1858.4L201.94,1859.4L197.84,1864.7L196.22,1866.2L190.88,1868.1L186.97,1868.2L184.39,1867L179.62,1863.6L173.80,1857.7L170.27,1855.3L164.93,1852.8L156.92,1850.7L155.39,1848.9L151.77,1843L149.86,1841.5L147.67,1842.7L142.42,1848.8L136.41,1853.8L133.55,1855.1L131.16,1854.1L125.82,1847.7L122.96,1842.9L118.58,1833.2L115.42,1823.3L113.23,1814.2L110.66,1800.2L105.03,1761.9L103.79,1754.4L101.40,1744.5L100.64,1742.6L99.97,1742.1L99.21,1743.7L98.35,1747.7L96.92,1755.9L95.87,1764.1L94.53,1777.5L92.82,1800L91.29,1818.6L90.81,1823.5L90.34,1827.3L87.95,1841.6L76.60,1916.3L76.03,1919.3L74.31,1925.6L73.64,1927.2L72.98,1927.7L72.40,1926.8L71.16,1923.3L69.45,1915.8L68.78,1912L67.82,1905.1L66.20,1891.6L65.15,1881.4L64.20,1870.8L63.06,1856.3L62.10,1842.9L59.81,1806.4L58.76,1785.1L56.76,1735.2L56.28,1727.3L56.00,1723.8L55.81,1722.8L55.61,1722.9L55.42,1724.3L55.14,1728.1L54.66,1737.4L54.28,1751.6Z"/><path id="eb3" d="M29.95,1734.5L30.71,1765.3L31.58,1793.2L32.63,1819.8L33.77,1842.4L35.11,1863.6L36.63,1882.9L38.35,1900.2L40.26,1915.8L41.59,1925L43.21,1934.7L44.64,1942.2L46.36,1950.1L48.17,1957.5L50.08,1964.4L54.28,1978L55.04,1979.8L55.52,1980L55.90,1978.6L56.28,1975.5L56.76,1970L57.14,1960.6L57.71,1938L57.71,1940.6L57.14,1962.4L56.76,1971.3L56.28,1976.1L55.81,1979.1L55.52,1980L55.04,1979.8L54.28,1978L50.08,1964.4L48.08,1957.1L46.27,1949.7L44.64,1942.2L43.12,1934.1L41.59,1925L40.16,1915.1L38.25,1899.3L36.54,1881.8L35.11,1863.6L33.77,1842.4L32.63,1819.8L31.58,1793.2L30.71,1765.3L29.95,1734.5ZM59.53,1825.9L60.10,1801.8L60.48,1790.9L61.15,1783L61.43,1781.5L61.62,1781.6L61.91,1783.8L62.48,1791.5L64.68,1835.4L65.92,1855.5L66.58,1864.8L67.35,1873.8L68.21,1882.8L69.06,1890.6L70.21,1899.3L71.45,1907.3L72.59,1913.4L73.93,1919.4L75.46,1925L77.36,1930.5L78.60,1933.1L79.84,1934.6L81.75,1933.6L83.18,1931.3L91.48,1909.6L96.35,1898.4L97.49,1895L97.97,1892.9L98.73,1888.6L99.69,1882.1L101.21,1868.5L103.50,1844L106.55,1805.7L108.37,1787.6L109.42,1778.2L110.18,1773L110.94,1769.7L112.85,1764.5L114.38,1762.5L116.09,1763.2L118.19,1765L119.05,1766.2L119.91,1768.4L121.05,1772.6L124.01,1784.9L126.68,1797.5L129.83,1813.6L132.31,1823.9L134.03,1829.1L136.12,1832.9L137.65,1834.6L138.32,1834.9L139.27,1834.3L142.04,1830.5L145.76,1822.1L149.19,1815.4L152.05,1812.1L153.96,1811.5L157.68,1813.4L160.54,1815.9L169.13,1825.3L180.52,1838.5L186.68,1845L190.40,1847.4L204.71,1854.3L212.34,1861.3L221.21,1870.5L224.17,1870.2L233.52,1866.8L241.91,1866.7L259.72,1864L259.72,1908L242.10,1905.2L234.71,1902.7L232.37,1903.4L223.79,1908L221.12,1908.5L212.63,1900.6L205.28,1894.6L190.69,1887.6L187.35,1885.5L170.56,1868.4L161.21,1859.5L158.26,1857.1L154.73,1855.6L152.25,1855.7L149.29,1858.2L147.29,1861.3L141.94,1871.6L139.18,1874.7L137.08,1874.6L135.74,1873.3L133.93,1870.7L132.21,1866.1L129.73,1856.8L126.68,1842.4L124.01,1830.9L121.05,1819.8L119.91,1816.1L119.05,1814.3L118.19,1813.5L116.09,1812.5L114.28,1812.5L112.75,1814.4L110.84,1819.4L110.18,1822.2L109.42,1827.3L108.37,1836.5L106.55,1854.3L103.50,1892.1L101.31,1914.9L99.69,1929L98.64,1935.6L97.87,1939.6L97.30,1941.5L95.97,1943.1L86.33,1948.7L83.09,1949.8L81.85,1948.6L79.84,1944.6L78.32,1942.5L77.17,1939.7L75.36,1934.2L73.83,1928.3L72.31,1921.2L71.07,1914L69.83,1905.4L68.87,1897.8L67.92,1888.6L66.94,1877.7L66.20,1868.1L64.68,1843.7L62.48,1799.6L61.91,1791.8L61.62,1789.6L61.43,1789.4L61.15,1790.5L60.86,1792.8L60.48,1797.4L60.10,1807.8L59.53,1831.1Z"/><path id="eb4" d="M29.95,1734.5L30.81,1769.1L31.77,1798.5L32.91,1826L34.25,1850.5L35.68,1871.4L37.39,1891L39.40,1909.2L40.54,1917.9L41.69,1925.6L43.40,1935.7L45.12,1944.5L47.32,1954.1L49.67,1963L51.70,1969.7L54.18,1976.8L60.38,1991.8L60.96,1992.1L61.43,1991L62.39,1986.4L62.96,1981.7L63.25,1978L63.44,1974.1L64.10,1952.6L64.10,1957L63.44,1977.4L63.25,1981.1L62.96,1984.3L62.39,1988.1L61.53,1991L60.96,1992.1L60.29,1991.7L53.99,1976.3L51.51,1969.1L49.51,1962.4L47.12,1953.3L44.93,1943.6L43.21,1934.7L41.50,1924.4L39.30,1908.4L37.39,1891L35.68,1871.4L34.25,1850.5L32.91,1826L31.77,1798.5L30.81,1769.1L29.95,1734.5ZM65.73,1861.3L66.11,1848.7L66.68,1836.7L66.87,1834.3L67.25,1831.5L67.54,1830.1L67.82,1829.9L68.21,1832.4L69.16,1841.8L69.83,1849.9L71.07,1866.9L71.64,1873.4L72.59,1882.8L73.45,1889.7L74.79,1898.3L76.51,1907.2L78.60,1916.2L81.27,1926.3L83.66,1933.9L88.68,1947.6L95.01,1962.7L102.07,1978.7L105.31,1984.9L109.22,1991.2L114.28,1998.6L116.38,2000.4L117.11,2000.5L120.19,1995.2L122.77,1990.1L126.32,1981.7L131.45,1972.2L134.22,1966.4L137.08,1958.5L141.81,1942.5L145.09,1932.8L146.62,1926.5L148.24,1917.3L150.62,1902.1L155.97,1864.3L156.92,1858.3L158.35,1850.5L159.88,1843.1L161.12,1838.3L163.41,1831.3L164.17,1829.7L164.93,1828.9L166.94,1829.3L168.65,1830.3L169.32,1831.7L170.47,1835.9L171.42,1840.5L175.71,1865L180.39,1894L182.58,1905.3L183.63,1909.6L184.96,1913.3L186.59,1916.7L188.26,1919.3L190.88,1921.5L192.69,1922.3L201.85,1920.7L207.86,1918.4L211.49,1914.4L218.16,1910.6L223.41,1910.4L225.03,1911.2L228.37,1913.9L240.39,1927.2L246.40,1931.5L249.07,1932.8L251.74,1933.1L259.72,1931.9L259.72,1951.9L257.94,1951.9L254.41,1953.5L250.20,1954.3L245.44,1953.1L239.15,1949.3L234.28,1944.8L227.99,1937.6L224.84,1935L223.31,1934.4L218.07,1934.7L211.48,1938.4L208.34,1942.1L204.04,1944L193.36,1946.3L191.83,1946L190.02,1944.9L186.20,1941.1L184.58,1938.2L183.34,1935.1L182.01,1929.8L176.48,1903.8L171.42,1882.6L170.75,1880.2L169.80,1878L169.13,1876.8L168.65,1876.6L166.27,1879.2L164.17,1882.6L162.55,1888.3L159.97,1899.9L158.16,1910.6L156.44,1922.3L153.20,1948.7L150.72,1969.9L149.55,1978.8L147.19,1992.3L146.33,1996.2L145.47,1999.3L143.95,2003.7L141.81,2008.5L138.51,2013.1L136.32,2015.4L134.60,2016.5L132.79,2016.9L126.32,2015.7L122.10,2013.6L117.11,2008.5L115.42,2007.3L104.26,1989.4L100.93,1982.9L89.29,1956.5L82.80,1939.1L80.42,1931.2L77.08,1918.3L75.27,1909.7L73.74,1900.8L72.79,1893.6L71.74,1883.8L71.07,1876.3L69.83,1859.5L69.16,1851.6L68.21,1842.3L67.82,1839.9L67.54,1839.8L67.25,1840.8L66.87,1843L66.68,1845.1L66.11,1856.2L65.73,1868.2Z"/></defs><g clip-path="url(#clipb)"><g transform="scale(7.86,1)" stroke-linejoin="round"><use href="#eb0" fill="#FFBB00" stroke="#FFBB00" stroke-width="1.145"/><use href="#eb1" fill="#FF908A" stroke="#FF908A" stroke-width="1.145"/><use href="#eb2" fill="#FFB0DC" stroke="#FFB0DC" stroke-width="1.145"/><use href="#eb3" fill="#33CCFF" stroke="#33CCFF" stroke-width="1.145"/><use href="#eb4" fill="#80F5A8" stroke="#80F5A8" stroke-width="1.145"/></g><use href="#eb0" transform="scale(7.86,1)" fill="none" stroke="#FFBB00" stroke-width="1.4"/><path d="M205.5,929.7L207.9,1200.3L209.7,1314.6L212.2,1418.8L215.2,1503.2L218.9,1576.2L223.4,1637.1L228.7,1687.7L233.2,1720.6L239.2,1755L248.2,1798.4L250.4,1805.2L251.9,1807.2L252.3,1807.3L252.7,1806.5L254.9,1783.7L259.4,1702.4L260.8,1621.5L263.2,1559.7L266.9,1496.9L269.2,1476.2L269.9,1472.1L270.7,1470.9L272.2,1477.9L273.7,1491.7L279.7,1602L281.9,1635L286.4,1684L292.4,1739L294.7,1754.1L300.7,1784.2L306.7,1821.9L310.4,1835.6L314.2,1847.1L317.2,1853.4L319.4,1855.6L320.9,1855.7L323.2,1854.1L327.7,1846.8L334.4,1831.5L339.7,1814L347.9,1777.8L362.9,1690L368.2,1666.9L374.2,1645.4L380.1,1627.2L383.9,1618.5L385.4,1616.5L389.9,1612.6L392.9,1611L395.5,1610.5L397.4,1611L400.4,1613.3L409.4,1623.8L423.6,1646.3L437.9,1670.4L445.8,1681.7L455.1,1692L482.9,1718.7L537.6,1764.1L545.8,1770.2L557.1,1776.7L566.8,1781.3L582.6,1786.6L591.6,1788.6L596.8,1789L610.3,1788.6L624.6,1787.7L642.6,1785.5L651.6,1785.5L674.1,1788.2L701.8,1793.7L743,1799L779.8,1801L814.3,1801.7L824.8,1801L836.8,1799.5L874.2,1792.6L887,1789.3L914.7,1780.6L926.7,1777.7L950,1774.5L970.2,1772.5L994.2,1771.5L1050.4,1773L1114.9,1772.2L1175.7,1773L1198.9,1774.9L1241.6,1781.5L1296.4,1791.6L1360.1,1802.1L1411.8,1812.1L1451.6,1818.3L1471.8,1820.5L1504.1,1821.4L1542.3,1821.7L1591,1820L1609.8,1819.9L1725.2,1823.5L1774,1825.6L1832.5,1826.2L1855.7,1825.8L1897.7,1822.1L1919.4,1822.1L1974.2,1824L1998.2,1826.1L2027.4,1829.6L2041.4,1829.6" fill="none" stroke="#E07800" stroke-width="7.5" stroke-linejoin="round" stroke-linecap="butt"/><use href="#eb1" transform="scale(7.86,1)" fill="none" stroke="#FF908A" stroke-width="1.4"/><path d="M205.5,929.7L207.9,1200.3L209.7,1314.6L212.2,1418.8L215.2,1503.2L218.9,1576.2L223.4,1637.1L228.7,1687.7L234.7,1730L242.2,1769.1L246.7,1787.6L251.2,1803.6L256.4,1819.8L261.7,1833.7L267.7,1847.4L274.4,1860.9L281.2,1872.6L287.9,1882.9L295.4,1893L302.9,1901.9L321.7,1922.5L326.9,1926.7L330.7,1927.5L332.2,1926.6L334.4,1923.3L338.9,1912.5L341.9,1897.9L346.4,1867L357.7,1754.2L368.2,1666.1L369.7,1655.1L371.2,1647.8L372.7,1641.7L373.4,1639.7L374.4,1638.5L375.6,1639.5L377.1,1642.7L380.9,1654.3L388.4,1691.9L403.4,1752.1L408.6,1771.5L417.6,1801.8L425.9,1824L433.4,1840.9L443.1,1860.5L449.1,1870.9L455.9,1880.5L461.1,1886.8L465.6,1890.7L475.4,1896.4L482.1,1898.5L487.4,1897.9L494.1,1894.1L502.4,1887L506.9,1880.1L518.1,1856.7L525.6,1839.4L556.3,1760.1L560.8,1751.1L566.8,1742.8L573.6,1735.4L584.8,1724.6L594.6,1716.6L604.3,1709.7L630.6,1693.5L653.1,1680.8L661.3,1677.2L668.8,1675.8L674.1,1676.4L680.1,1678.7L686.1,1682.1L699.6,1691.1L706.3,1696.8L735.5,1724.3L746.8,1734.1L764.8,1747L780.5,1760.3L791.8,1767.8L803.8,1774.7L815,1780.3L827.8,1785.8L862.3,1798L870.5,1800.1L883.2,1802.5L912.5,1806.7L938.7,1809.3L997.2,1813.4L1081.2,1824.3L1102.2,1826.4L1113.4,1826.8L1192.9,1827L1247.6,1828.3L1295.6,1830.8L1360.9,1833.4L1414.8,1838.2L1451.6,1840.9L1470.3,1841.8L1500.3,1841.8L1542.3,1840.8L1596.3,1836.2L1653.3,1834.9L1675,1835.1L1721.5,1836.8L1785.2,1837.5L1816.7,1837L1893.2,1834.6L1923.9,1834.6L1975.7,1835.3L2027.4,1837.9L2041.4,1837.9" fill="none" stroke="#FF0000" stroke-width="7.5" stroke-linejoin="round" stroke-linecap="butt"/><use href="#eb2" transform="scale(7.86,1)" fill="none" stroke="#FFB0DC" stroke-width="1.4"/><path d="M205.5,929.7L206.7,1090.5L208.5,1240.4L210.7,1361.1L213.7,1465.2L217.4,1550.2L222.7,1628.3L228.7,1687.7L235.4,1734.5L239.9,1758.7L244.4,1778.7L249.7,1798.5L254.9,1815.4L260.9,1831.8L267.7,1847.4L275.2,1862.2L282.7,1875L290.9,1887.1L299.9,1898.5L309.7,1909.2L320.2,1919.2L329.9,1927.4L341.9,1936.3L371.2,1955.6L377.9,1959.5L386.1,1962.6L390.4,1963L392.1,1962.4L394.4,1959.8L396.6,1955.7L400.5,1946.2L401.9,1941.4L404.9,1924L409.4,1891.3L421.4,1783.5L425.9,1752.5L428.1,1739.9L430.4,1731L434.9,1720.8L436.4,1718.7L438.2,1717.7L440.1,1718.8L441.6,1720.9L446.1,1730L461.9,1779.6L465.8,1790.5L470.9,1802.3L488.1,1836.8L494.9,1848.7L503.1,1862L510.6,1872.8L518.9,1883L530.1,1894.9L539.1,1903.4L545.1,1907.8L557.1,1914.4L563.8,1917.2L569.8,1918.5L575.1,1918.1L581.1,1915.8L587.8,1911.8L601.3,1902.4L620.8,1884.1L689.1,1822.6L710,1805.1L713.8,1801.1L717.5,1795.9L729.5,1776.6L743,1753.2L747.3,1747L754.3,1738.3L762.5,1729.8L774.5,1720.4L781.3,1716.5L786.5,1715.2L791.8,1715.6L797,1717.3L810.5,1723.7L815.8,1726.8L825.5,1734.1L869.8,1771.5L889.2,1784.6L905,1792.8L916.2,1797.5L930.5,1802.7L954.5,1810.7L972.5,1816L987.5,1819.7L1013.7,1825.1L1037.7,1829.1L1052.7,1830L1076.7,1829.4L1120.2,1826.4L1160.7,1822.1L1179.4,1821.6L1192.9,1823.3L1221.4,1829.9L1234.1,1831.9L1295.6,1835.2L1330.9,1838L1364.6,1841.4L1414.8,1848.8L1450.1,1852.1L1471.8,1853.3L1501.8,1853.1L1543,1851.1L1555,1849.7L1587.3,1844.4L1596.3,1843.6L1605.3,1843.4L1628.5,1844.1L1665.3,1846.2L1703.5,1850.2L1717.7,1851.2L1789,1851.2L1831.7,1848.9L1848.2,1848.6L1863.9,1849.4L1899.9,1853L1920.9,1854.2L1994.4,1856.9L2041.4,1857.7" fill="none" stroke="#FF00FF" stroke-width="7.5" stroke-linejoin="round" stroke-linecap="butt"/><use href="#eb3" transform="scale(7.86,1)" fill="none" stroke="#33CCFF" stroke-width="1.4"/><path d="M205.5,929.7L206.7,1090.5L208.5,1240.4L210.7,1361.1L213.7,1465.2L217.4,1550.2L221.9,1619L227.9,1681.4L230.9,1705.2L234.7,1730L238.4,1751.1L242.9,1772.4L248.2,1793.2L253.4,1810.9L259.4,1828L265.4,1842.4L272.9,1858L280.4,1871.4L288.7,1884L297.7,1895.8L307.4,1906.8L318.7,1917.9L329.9,1927.4L343.4,1937.3L356.2,1945.4L371.2,1953.7L395.1,1965.1L426.6,1978L431.1,1979.5L435.7,1980L438.6,1979.1L441.6,1976.6L445.8,1971.3L447.6,1966.9L449.1,1961.5L454.4,1934.6L465.6,1843.6L467.9,1828.5L471.6,1808.4L473.9,1798.6L475.9,1793L479.9,1787.5L482.1,1785.7L483.5,1785.3L485.1,1786.1L486.6,1787.8L491.1,1795.5L508.4,1839.6L519.6,1862.5L525.6,1872.6L532.4,1882.3L539.1,1890.8L545.8,1898.1L555.6,1907L566.1,1915L577.3,1922L588.6,1927.8L603.6,1933.7L614.8,1937.4L623.8,1939L639.6,1940.8L649.3,1941L659.8,1939.6L719.8,1927.5L756.5,1920.8L764.9,1918.5L770,1916L776,1911.8L783.5,1905.5L789.5,1899.3L796.3,1891.2L813.5,1868.1L837.5,1830L851.8,1812L860,1802.8L866,1797.6L872,1794.4L887,1789.3L893,1788.1L899,1787.5L913.2,1787.9L929.7,1789.3L935.7,1790.2L942.5,1792.3L951.5,1796.2L974.7,1807.9L995.7,1820L1020.5,1835.4L1039.9,1845.2L1047.4,1848.2L1053.4,1850L1068.4,1853.1L1079.7,1854.6L1087.2,1854.9L1094.7,1854.5L1116.4,1851L1145.7,1843.1L1163.7,1838.6L1173.4,1836.7L1196.7,1833.8L1213.1,1833.6L1241.6,1835.3L1264.9,1837.8L1469.6,1865.2L1498.1,1867.5L1585,1872.5L1611.3,1874.5L1670.5,1881L1738.7,1889.5L1761.2,1889.1L1825,1885.3L1841.5,1884.7L1902.2,1886L2041.4,1886" fill="none" stroke="#0000FF" stroke-width="7.5" stroke-linejoin="round" stroke-linecap="butt"/><use href="#eb4" transform="scale(7.86,1)" fill="none" stroke="#80F5A8" stroke-width="1.4"/><path d="M205.5,929.7L206.7,1090.5L208.5,1240.4L210.7,1361.1L213.7,1465.2L217.4,1550.2L221.9,1619L227.2,1674.8L233.2,1720.6L236.9,1743.1L241.4,1765.3L245.9,1784.7L251.2,1803.6L256.4,1819.8L262.4,1835.5L269.9,1852.1L277.4,1866.3L285.7,1879.6L293.9,1891L303.7,1902.8L314.2,1913.6L325.4,1923.7L338.2,1933.6L350.9,1942.2L364.4,1950.1L386.1,1961.1L407.9,1970.2L431.1,1978.6L470.1,1990.7L475.4,1991.9L479.9,1992L484.4,1990.5L490.4,1987.2L494.1,1983.9L497.1,1979.6L500.1,1970.7L503.6,1956.2L505.4,1945.7L514.4,1878.7L516.6,1864.8L518.6,1855.8L521.9,1845.9L524.9,1839.7L528.6,1836.1L532.2,1834.7L533.9,1835.3L535.4,1836.5L541.3,1843.6L548.1,1853.5L560.8,1875L569.8,1886.5L577.3,1894.3L587.8,1902.7L601.3,1911.5L616.3,1919.5L638.1,1929.9L656.8,1937.5L696.6,1951.1L746.8,1966.2L800.8,1981.6L821,1986.5L845.8,1991.8L899,2002.2L914,2004.2L932,2004.2L962,2002.3L1033.2,1994.5L1053.7,1991.7L1068.4,1988.8L1084.9,1984.6L1120.9,1973.6L1135.2,1968.7L1145.7,1964.3L1153.2,1960.3L1162.2,1954.2L1173.4,1945.5L1184.7,1935.6L1203.4,1916.8L1228.9,1892.4L1240.1,1883.3L1253.6,1873.7L1265.6,1866.7L1279.1,1860.3L1286.6,1857.3L1295.6,1855.1L1311.4,1853.8L1323.4,1853.4L1327.9,1853.7L1333.1,1855.1L1342.1,1858.7L1348.1,1862L1380.3,1882.2L1393.1,1890.7L1414.8,1906.1L1437.3,1920L1444.8,1923.4L1456.1,1926.7L1468.1,1929.5L1479.7,1931.3L1500.3,1933.5L1514.6,1934.3L1586.5,1932.7L1633.8,1930.4L1642,1929.6L1662.3,1926.4L1714.7,1922.6L1756,1922.4L1768,1923.1L1793.5,1925.7L1840,1932.6L1884.9,1938.2L1932.9,1942.3L1953.9,1943.4L1972.7,1943.6L2002.7,1943.2L2027.4,1941.9L2041.4,1941.9" fill="none" stroke="#008000" stroke-width="7.5" stroke-linejoin="round" stroke-linecap="butt"/></g>
<rect x="201.8" y="1279.0" width="1825.6000000000001" height="851.0" fill="none" stroke="#000" stroke-width="3"/><path d="M201.8,2130.0v-9.5M201.8,1279.0v9.5M506.1,2130.0v-9.5M506.1,1279.0v9.5M810.3,2130.0v-9.5M810.3,1279.0v9.5M1114.6,2130.0v-9.5M1114.6,1279.0v9.5M1418.9,2130.0v-9.5M1418.9,1279.0v9.5M1723.1,2130.0v-9.5M1723.1,1279.0v9.5M2027.4,2130.0v-9.5M2027.4,1279.0v9.5M201.8,2130.0h9.5M2027.4,2130.0h-9.5M201.8,2023.6h9.5M2027.4,2023.6h-9.5M201.8,1917.2h9.5M2027.4,1917.2h-9.5M201.8,1810.9h9.5M2027.4,1810.9h-9.5M201.8,1704.5h9.5M2027.4,1704.5h-9.5M201.8,1598.1h9.5M2027.4,1598.1h-9.5M201.8,1491.8h9.5M2027.4,1491.8h-9.5M201.8,1385.4h9.5M2027.4,1385.4h-9.5M201.8,1279.0h9.5M2027.4,1279.0h-9.5" stroke="#000" stroke-width="1.2" fill="none"/>
<g class="tk"><text x="204.8" y="2172.0" text-anchor="middle">0</text><text x="509.1" y="2172.0" text-anchor="middle">5000</text><text x="813.3" y="2172.0" text-anchor="middle">10000</text><text x="1117.6" y="2172.0" text-anchor="middle">15000</text><text x="1421.9" y="2172.0" text-anchor="middle">20000</text><text x="1726.1" y="2172.0" text-anchor="middle">25000</text><text x="2030.4" y="2172.0" text-anchor="middle">30000</text><text x="192.0" y="2142.0" text-anchor="end">0.0</text><text x="192.0" y="2035.6" text-anchor="end">0.5</text><text x="192.0" y="1929.2" text-anchor="end">1.0</text><text x="192.0" y="1822.9" text-anchor="end">1.5</text><text x="192.0" y="1716.5" text-anchor="end">2.0</text><text x="192.0" y="1610.1" text-anchor="end">2.5</text><text x="192.0" y="1503.8" text-anchor="end">3.0</text><text x="192.0" y="1397.4" text-anchor="end">3.5</text><text x="192.0" y="1291.0" text-anchor="end">4.0</text><text x="209" y="1272">×10</text><text x="291.5" y="1250.5" font-size="29.5">−5</text></g>
<rect x="1348.5" y="1304.3" width="653.9" height="408.1" fill="#fff" stroke="#000" stroke-width="3"/><path d="M1384.5,1319.7V1370.7" stroke="#FFBB00" stroke-width="7.2"/><path d="M1377.5,1319.7h14.0M1377.5,1370.7h14.0" stroke="#FFBB00" stroke-width="1.2"/><path d="M1455.5,1319.7V1370.7" stroke="#FFBB00" stroke-width="7.2"/><path d="M1448.5,1319.7h14.0M1448.5,1370.7h14.0" stroke="#FFBB00" stroke-width="1.2"/><path d="M1380.9,1345.2H1459.1" stroke="#E07800" stroke-width="6.7"/><text x="1512.1" y="1363.8" font-size="52.9" class="mi" stroke="#000" stroke-width="1.40" stroke-linejoin="round" textLength="21.0" lengthAdjust="spacingAndGlyphs">δ</text><text x="1532.4" y="1375.0" font-size="35.5" class="mi" stroke="#000" stroke-width="1.10" stroke-linejoin="round" textLength="24.7" lengthAdjust="spacingAndGlyphs">C</text><text x="1577.5" y="1367.3" font-size="52.9" class="mr" stroke="#000" stroke-width="1.30" stroke-linejoin="round" textLength="43.3" lengthAdjust="spacingAndGlyphs">=</text><text x="1620.2" y="1363.8" font-size="52.9" class="mr" stroke="#000" stroke-width="1.70" stroke-linejoin="round" textLength="67.6" lengthAdjust="spacingAndGlyphs">0.5</text><text x="1687.3" y="1363.8" font-size="52.9" class="mr" stroke="#000" stroke-width="1.70" stroke-linejoin="round" textLength="15.6" lengthAdjust="spacingAndGlyphs">,</text><text x="1720.1" y="1363.8" font-size="52.9" class="mi" stroke="#000" stroke-width="1.40" stroke-linejoin="round" textLength="20.6" lengthAdjust="spacingAndGlyphs">δ</text><text x="1742.8" y="1375.0" font-size="35.5" class="mi" stroke="#000" stroke-width="1.10" stroke-linejoin="round" textLength="27.8" lengthAdjust="spacingAndGlyphs">B</text><text x="1782.8" y="1375.8" font-size="77.0" class="mr" stroke="#000" stroke-width="1.00" stroke-linejoin="round" textLength="22.5" lengthAdjust="spacingAndGlyphs">/</text><text x="1808.0" y="1363.8" font-size="52.9" class="mi" stroke="#000" stroke-width="1.40" stroke-linejoin="round" textLength="20.5" lengthAdjust="spacingAndGlyphs">δ</text><text x="1828.4" y="1375.0" font-size="35.5" class="mi" stroke="#000" stroke-width="1.10" stroke-linejoin="round" textLength="24.2" lengthAdjust="spacingAndGlyphs">C</text><text x="1873.0" y="1367.3" font-size="52.9" class="mr" stroke="#000" stroke-width="1.30" stroke-linejoin="round" textLength="41.6" lengthAdjust="spacingAndGlyphs">=</text><text x="1912.6" y="1363.8" font-size="52.9" class="mr" stroke="#000" stroke-width="1.70" stroke-linejoin="round" textLength="67.9" lengthAdjust="spacingAndGlyphs">2.0</text><path d="M1384.5,1398.2V1449.2" stroke="#FF908A" stroke-width="7.2"/><path d="M1377.5,1398.2h14.0M1377.5,1449.2h14.0" stroke="#FF908A" stroke-width="1.2"/><path d="M1455.5,1398.2V1449.2" stroke="#FF908A" stroke-width="7.2"/><path d="M1448.5,1398.2h14.0M1448.5,1449.2h14.0" stroke="#FF908A" stroke-width="1.2"/><path d="M1380.9,1423.7H1459.1" stroke="#FF0000" stroke-width="6.7"/><text x="1512.1" y="1442.3" font-size="52.9" class="mi" stroke="#000" stroke-width="1.40" stroke-linejoin="round" textLength="21.0" lengthAdjust="spacingAndGlyphs">δ</text><text x="1532.4" y="1453.5" font-size="35.5" class="mi" stroke="#000" stroke-width="1.10" stroke-linejoin="round" textLength="24.7" lengthAdjust="spacingAndGlyphs">C</text><text x="1577.5" y="1445.8" font-size="52.9" class="mr" stroke="#000" stroke-width="1.30" stroke-linejoin="round" textLength="43.3" lengthAdjust="spacingAndGlyphs">=</text><text x="1620.2" y="1442.3" font-size="52.9" class="mr" stroke="#000" stroke-width="1.70" stroke-linejoin="round" textLength="67.5" lengthAdjust="spacingAndGlyphs">0.8</text><text x="1687.3" y="1442.3" font-size="52.9" class="mr" stroke="#000" stroke-width="1.70" stroke-linejoin="round" textLength="15.6" lengthAdjust="spacingAndGlyphs">,</text><text x="1720.1" y="1442.3" font-size="52.9" class="mi" stroke="#000" stroke-width="1.40" stroke-linejoin="round" textLength="20.6" lengthAdjust="spacingAndGlyphs">δ</text><text x="1742.8" y="1453.5" font-size="35.5" class="mi" stroke="#000" stroke-width="1.10" stroke-linejoin="round" textLength="27.8" lengthAdjust="spacingAndGlyphs">B</text><text x="1782.8" y="1454.3" font-size="77.0" class="mr" stroke="#000" stroke-width="1.00" stroke-linejoin="round" textLength="22.5" lengthAdjust="spacingAndGlyphs">/</text><text x="1808.0" y="1442.3" font-size="52.9" class="mi" stroke="#000" stroke-width="1.40" stroke-linejoin="round" textLength="20.5" lengthAdjust="spacingAndGlyphs">δ</text><text x="1828.4" y="1453.5" font-size="35.5" class="mi" stroke="#000" stroke-width="1.10" stroke-linejoin="round" textLength="24.2" lengthAdjust="spacingAndGlyphs">C</text><text x="1873.0" y="1445.8" font-size="52.9" class="mr" stroke="#000" stroke-width="1.30" stroke-linejoin="round" textLength="41.6" lengthAdjust="spacingAndGlyphs">=</text><text x="1910.0" y="1442.3" font-size="52.9" class="mr" stroke="#000" stroke-width="1.70" stroke-linejoin="round" textLength="71.6" lengthAdjust="spacingAndGlyphs">1.2</text><path d="M1384.5,1476.7V1527.7" stroke="#FFB0DC" stroke-width="7.2"/><path d="M1377.5,1476.7h14.0M1377.5,1527.7h14.0" stroke="#FFB0DC" stroke-width="1.2"/><path d="M1455.5,1476.7V1527.7" stroke="#FFB0DC" stroke-width="7.2"/><path d="M1448.5,1476.7h14.0M1448.5,1527.7h14.0" stroke="#FFB0DC" stroke-width="1.2"/><path d="M1380.9,1502.2H1459.1" stroke="#FF00FF" stroke-width="6.7"/><text x="1512.1" y="1520.8" font-size="52.9" class="mi" stroke="#000" stroke-width="1.40" stroke-linejoin="round" textLength="21.0" lengthAdjust="spacingAndGlyphs">δ</text><text x="1532.4" y="1532.0" font-size="35.5" class="mi" stroke="#000" stroke-width="1.10" stroke-linejoin="round" textLength="24.7" lengthAdjust="spacingAndGlyphs">C</text><text x="1577.5" y="1524.3" font-size="52.9" class="mr" stroke="#000" stroke-width="1.30" stroke-linejoin="round" textLength="43.3" lengthAdjust="spacingAndGlyphs">=</text><text x="1617.3" y="1520.8" font-size="52.9" class="mr" stroke="#000" stroke-width="1.70" stroke-linejoin="round" textLength="70.5" lengthAdjust="spacingAndGlyphs">1.0</text><text x="1687.3" y="1520.8" font-size="52.9" class="mr" stroke="#000" stroke-width="1.70" stroke-linejoin="round" textLength="15.6" lengthAdjust="spacingAndGlyphs">,</text><text x="1720.1" y="1520.8" font-size="52.9" class="mi" stroke="#000" stroke-width="1.40" stroke-linejoin="round" textLength="20.6" lengthAdjust="spacingAndGlyphs">δ</text><text x="1742.8" y="1532.0" font-size="35.5" class="mi" stroke="#000" stroke-width="1.10" stroke-linejoin="round" textLength="27.8" lengthAdjust="spacingAndGlyphs">B</text><text x="1782.8" y="1532.8" font-size="77.0" class="mr" stroke="#000" stroke-width="1.00" stroke-linejoin="round" textLength="22.5" lengthAdjust="spacingAndGlyphs">/</text><text x="1808.0" y="1520.8" font-size="52.9" class="mi" stroke="#000" stroke-width="1.40" stroke-linejoin="round" textLength="20.5" lengthAdjust="spacingAndGlyphs">δ</text><text x="1828.4" y="1532.0" font-size="35.5" class="mi" stroke="#000" stroke-width="1.10" stroke-linejoin="round" textLength="24.2" lengthAdjust="spacingAndGlyphs">C</text><text x="1873.0" y="1524.3" font-size="52.9" class="mr" stroke="#000" stroke-width="1.30" stroke-linejoin="round" textLength="41.6" lengthAdjust="spacingAndGlyphs">=</text><text x="1910.0" y="1520.8" font-size="52.9" class="mr" stroke="#000" stroke-width="1.70" stroke-linejoin="round" textLength="70.5" lengthAdjust="spacingAndGlyphs">1.0</text><path d="M1384.5,1555.1V1606.1" stroke="#33CCFF" stroke-width="7.2"/><path d="M1377.5,1555.1h14.0M1377.5,1606.1h14.0" stroke="#33CCFF" stroke-width="1.2"/><path d="M1455.5,1555.1V1606.1" stroke="#33CCFF" stroke-width="7.2"/><path d="M1448.5,1555.1h14.0M1448.5,1606.1h14.0" stroke="#33CCFF" stroke-width="1.2"/><path d="M1380.9,1580.6H1459.1" stroke="#0000FF" stroke-width="6.7"/><text x="1512.1" y="1599.2" font-size="52.9" class="mi" stroke="#000" stroke-width="1.40" stroke-linejoin="round" textLength="21.0" lengthAdjust="spacingAndGlyphs">δ</text><text x="1532.4" y="1610.4" font-size="35.5" class="mi" stroke="#000" stroke-width="1.10" stroke-linejoin="round" textLength="24.7" lengthAdjust="spacingAndGlyphs">C</text><text x="1577.5" y="1602.7" font-size="52.9" class="mr" stroke="#000" stroke-width="1.30" stroke-linejoin="round" textLength="43.3" lengthAdjust="spacingAndGlyphs">=</text><text x="1617.3" y="1599.2" font-size="52.9" class="mr" stroke="#000" stroke-width="1.70" stroke-linejoin="round" textLength="71.6" lengthAdjust="spacingAndGlyphs">1.2</text><text x="1687.3" y="1599.2" font-size="52.9" class="mr" stroke="#000" stroke-width="1.70" stroke-linejoin="round" textLength="15.6" lengthAdjust="spacingAndGlyphs">,</text><text x="1720.1" y="1599.2" font-size="52.9" class="mi" stroke="#000" stroke-width="1.40" stroke-linejoin="round" textLength="20.6" lengthAdjust="spacingAndGlyphs">δ</text><text x="1742.8" y="1610.4" font-size="35.5" class="mi" stroke="#000" stroke-width="1.10" stroke-linejoin="round" textLength="27.8" lengthAdjust="spacingAndGlyphs">B</text><text x="1782.8" y="1611.2" font-size="77.0" class="mr" stroke="#000" stroke-width="1.00" stroke-linejoin="round" textLength="22.5" lengthAdjust="spacingAndGlyphs">/</text><text x="1808.0" y="1599.2" font-size="52.9" class="mi" stroke="#000" stroke-width="1.40" stroke-linejoin="round" textLength="20.5" lengthAdjust="spacingAndGlyphs">δ</text><text x="1828.4" y="1610.4" font-size="35.5" class="mi" stroke="#000" stroke-width="1.10" stroke-linejoin="round" textLength="24.2" lengthAdjust="spacingAndGlyphs">C</text><text x="1873.0" y="1602.7" font-size="52.9" class="mr" stroke="#000" stroke-width="1.30" stroke-linejoin="round" textLength="41.6" lengthAdjust="spacingAndGlyphs">=</text><text x="1912.9" y="1599.2" font-size="52.9" class="mr" stroke="#000" stroke-width="1.70" stroke-linejoin="round" textLength="67.5" lengthAdjust="spacingAndGlyphs">0.8</text><path d="M1384.5,1633.6V1684.6" stroke="#80F5A8" stroke-width="7.2"/><path d="M1377.5,1633.6h14.0M1377.5,1684.6h14.0" stroke="#80F5A8" stroke-width="1.2"/><path d="M1455.5,1633.6V1684.6" stroke="#80F5A8" stroke-width="7.2"/><path d="M1448.5,1633.6h14.0M1448.5,1684.6h14.0" stroke="#80F5A8" stroke-width="1.2"/><path d="M1380.9,1659.1H1459.1" stroke="#008000" stroke-width="6.7"/><text x="1512.1" y="1677.7" font-size="52.9" class="mi" stroke="#000" stroke-width="1.40" stroke-linejoin="round" textLength="21.0" lengthAdjust="spacingAndGlyphs">δ</text><text x="1532.4" y="1688.9" font-size="35.5" class="mi" stroke="#000" stroke-width="1.10" stroke-linejoin="round" textLength="24.7" lengthAdjust="spacingAndGlyphs">C</text><text x="1577.5" y="1681.2" font-size="52.9" class="mr" stroke="#000" stroke-width="1.30" stroke-linejoin="round" textLength="43.3" lengthAdjust="spacingAndGlyphs">=</text><text x="1619.9" y="1677.7" font-size="52.9" class="mr" stroke="#000" stroke-width="1.70" stroke-linejoin="round" textLength="67.9" lengthAdjust="spacingAndGlyphs">2.0</text><text x="1687.3" y="1677.7" font-size="52.9" class="mr" stroke="#000" stroke-width="1.70" stroke-linejoin="round" textLength="15.6" lengthAdjust="spacingAndGlyphs">,</text><text x="1720.1" y="1677.7" font-size="52.9" class="mi" stroke="#000" stroke-width="1.40" stroke-linejoin="round" textLength="20.6" lengthAdjust="spacingAndGlyphs">δ</text><text x="1742.8" y="1688.9" font-size="35.5" class="mi" stroke="#000" stroke-width="1.10" stroke-linejoin="round" textLength="27.8" lengthAdjust="spacingAndGlyphs">B</text><text x="1782.8" y="1689.7" font-size="77.0" class="mr" stroke="#000" stroke-width="1.00" stroke-linejoin="round" textLength="22.5" lengthAdjust="spacingAndGlyphs">/</text><text x="1808.0" y="1677.7" font-size="52.9" class="mi" stroke="#000" stroke-width="1.40" stroke-linejoin="round" textLength="20.5" lengthAdjust="spacingAndGlyphs">δ</text><text x="1828.4" y="1688.9" font-size="35.5" class="mi" stroke="#000" stroke-width="1.10" stroke-linejoin="round" textLength="24.2" lengthAdjust="spacingAndGlyphs">C</text><text x="1873.0" y="1681.2" font-size="52.9" class="mr" stroke="#000" stroke-width="1.30" stroke-linejoin="round" textLength="41.6" lengthAdjust="spacingAndGlyphs">=</text><text x="1912.9" y="1677.7" font-size="52.9" class="mr" stroke="#000" stroke-width="1.70" stroke-linejoin="round" textLength="67.6" lengthAdjust="spacingAndGlyphs">0.5</text>
<text class="ylab" font-size="75" transform="translate(100.5,1941) rotate(-90)" x="-6.9" textLength="490.5" lengthAdjust="spacingAndGlyphs">reaction rate</text>
<text class="lab" x="1033.7" y="2248" textLength="171.3" lengthAdjust="spacingAndGlyphs">time</text>
<!-- plot c -->
<defs><path id="ec0" d="M32.95,2916.1L34.00,2963.5L34.29,2970.8L34.38,2971.8L34.48,2971.5L34.38,2971.8L34.29,2970.8L34.00,2963.5L32.95,2916.1ZM36.77,2684.7L36.87,2682.9L36.96,2684.4L36.96,2696.1L36.87,2694.9L36.77,2696.1ZM40.30,2949.3L40.68,2964.6L40.97,2972.9L41.54,2983.8L42.02,2990L42.88,2995.7L43.54,2998L44.12,2997.8L44.59,2994.6L45.36,2984.3L45.74,2976.6L46.40,2954.4L47.26,2930L48.89,2874.4L49.74,2851.7L50.41,2838.6L50.89,2832.2L51.94,2824.2L52.32,2822.6L52.70,2822.1L53.56,2822.9L54.77,2825.5L55.75,2829.5L57.95,2843.6L63.10,2884.6L64.53,2894.6L65.96,2903.6L67.01,2909.5L68.25,2915.4L73.12,2936.2L74.74,2942.7L76.84,2950.1L78.42,2954.8L83.71,2965.9L90.96,2978.1L96.58,2984.6L100.21,2986.6L104.31,2991.3L112.52,2991L113.66,2990.3L116.24,2987.2L119.77,2984.7L122.25,2984.7L132.36,2986.9L136.46,2986.9L143.33,2985.3L146.95,2981.1L158.59,2980.2L160.02,2981.2L162.41,2983.8L166.03,2989L171.38,2992.6L181.45,3002.7L187.78,3008.4L191.31,3010.1L204.67,3014.3L211.63,3019L217.26,3021.9L225.47,3024.7L230.43,3024.9L235.58,3023.5L241.87,3018.6L247.79,3019.3L253.61,3016.3L254.66,3016.9L255.71,3018.3L256.85,3020.8L258.09,3024.4L259.87,3024.4L259.87,3052.4L258.09,3052.4L256.76,3048.5L255.61,3046L254.56,3044.5L253.49,3043.9L247.79,3046.4L243.31,3045.2L241.78,3045.3L235.86,3049.4L228.90,3051.8L224.80,3051.9L218.79,3050.5L211.82,3047.1L204.57,3042.3L188.64,3037L181.45,3030.7L171.85,3024.4L165.84,3022.2L162.60,3018.6L159.16,3016.2L146.95,3015.3L143.33,3018.9L136.46,3019.4L132.26,3018.7L119.96,3014.6L116.14,3016.9L112.90,3020.3L104.79,3020L103.36,3019.1L100.21,3014.9L96.77,3012.9L92.58,3008.9L90.57,3006.6L85.52,2999.1L83.23,2994.7L78.27,2983.1L76.55,2977.4L74.26,2968.7L68.16,2941.4L66.92,2935.1L65.77,2928.4L63.10,2910.1L57.95,2868.4L55.75,2853.9L55.09,2850.8L54.32,2848.7L53.27,2846.6L52.41,2846L52.03,2846.3L51.65,2847.6L50.79,2852.4L50.32,2858.2L49.55,2871.8L49.08,2883.2L48.31,2905.4L47.17,2946.9L46.40,2969.6L45.64,2995.8L44.97,3007.9L44.40,3015.3L44.12,3017.4L43.92,3018L43.45,3016.5L42.59,3010.4L41.92,3003.4L41.44,2995.3L40.97,2984.7L40.30,2959.2Z"/><path id="ec1" d="M32.95,2916.1L33.53,2940.3L34.10,2961L34.77,2981.5L35.43,2999.3L36.20,3016.5L37.06,3033.4L38.01,3049.5L38.96,3063.4L40.01,3076.7L41.16,3089.3L43.54,3113.6L44.02,3117.6L44.40,3119.8L44.88,3120.8L45.07,3118.8L45.36,3110.6L45.83,3090.5L45.36,3110.6L45.07,3118.8L44.88,3120.8L44.40,3119.8L44.02,3117.6L43.54,3113.6L41.16,3089.3L40.01,3076.7L38.96,3063.4L38.01,3049.5L37.06,3033.4L36.20,3016.5L35.43,2999.3L34.77,2981.5L34.10,2961L33.53,2940.3L32.95,2916.1ZM48.22,2896L49.34,2855.1L49.65,2849L49.93,2845.1L50.13,2844.2L50.41,2845.6L50.71,2848.7L50.89,2851.6L51.56,2870.7L52.41,2891.3L54.61,2937.8L56.04,2962.6L57.76,2987.6L59.47,3008.7L60.71,3021.5L61.57,3029L62.72,3036.4L63.58,3040.8L64.24,3042.9L65.20,3044.1L65.77,3044.1L66.53,3042.1L67.68,3037.1L68.25,3033L69.78,3017.9L73.40,2974L74.74,2961.7L75.79,2953.4L77.41,2944.8L78.65,2939.6L79.60,2936.6L81.32,2933.5L83.61,2932.6L85.80,2933.4L88.00,2935.7L91.24,2941.8L94.77,2949.3L97.44,2956.2L99.92,2961.8L104.02,2974.4L106.03,2979.5L109.65,2987.3L114.33,2996L119.38,3004.1L125.11,3012L130.64,3018.3L135.47,3022.7L140.18,3025.1L143.14,3025.7L149.24,3025.2L159.64,3022.6L174.71,3022.2L178.24,3023.3L183.59,3026.1L189.60,3030.7L194.65,3035.7L196.78,3036.9L204.38,3037.8L212.68,3036.9L219.46,3039.4L227.09,3040.5L229.19,3040.2L234.62,3037.7L243.50,3037.8L247.12,3039L258.09,3044.5L259.87,3044.5L259.87,3070.5L258.09,3070.5L247.03,3064.9L243.31,3063.8L234.62,3064.8L229.28,3067.9L227.44,3068.5L219.46,3067.4L212.68,3064.9L204.29,3065.8L196.56,3064.9L194.27,3063.7L189.21,3059.4L181.68,3054.9L174.71,3053.1L166.13,3054.3L159.36,3051.1L148.86,3048.2L141.99,3045L131.88,3035.6L126.92,3030.2L121.29,3022.9L115.66,3014.2L110.03,3004L105.84,2995L104.02,2990.3L100.11,2977.9L97.44,2971.6L94.29,2963.3L91.24,2957.3L88.28,2952.3L86.38,2950.5L84.95,2949.9L83.42,2951.3L81.13,2955.5L79.60,2960.4L78.17,2967.3L77.12,2975.5L70.16,3039.2L68.35,3054.3L67.68,3058.2L66.82,3060.8L66.06,3062.2L65.39,3062.1L64.34,3060.4L63.67,3058.1L62.81,3053.5L61.67,3045.7L60.81,3038L59.66,3025.7L57.95,3004.1L56.14,2977.3L54.61,2950.1L52.41,2902.5L51.56,2881.4L50.89,2862L50.71,2859L50.41,2855.7L50.13,2854.2L49.93,2854.7L49.65,2858L49.34,2863.3L48.22,2901.6Z"/><path id="ec2" d="M32.95,2916.1L33.62,2944L34.44,2971.9L35.34,2996.9L36.29,3018.5L37.44,3040.2L38.68,3059.5L40.01,3076.7L41.54,3093.2L43.45,3110.1L45.64,3126.2L49.84,3152.2L50.60,3155.9L51.37,3158.3L51.94,3158.7L52.13,3157.2L52.32,3154.1L52.99,3136.8L53.46,3117.1L53.46,3118.5L52.99,3137.4L52.22,3155.8L51.94,3158.7L51.27,3158.1L50.60,3155.9L49.84,3152.2L45.64,3126.2L43.45,3110.1L41.54,3093.2L40.01,3076.7L38.68,3059.5L37.44,3040.2L36.29,3018.5L35.34,2996.9L34.44,2971.9L33.62,2944L32.95,2916.1ZM56.33,2939.8L56.69,2926.5L57.47,2910.3L57.76,2906.5L58.04,2904.4L58.23,2904.1L58.52,2905.2L59.28,2911.7L60.05,2921.9L63.29,2972.8L64.63,2991.3L66.53,3013.9L68.19,3030.7L69.20,3039.1L70.35,3047.4L71.88,3057.2L72.93,3062.9L74.17,3067.9L75.21,3071.1L76.45,3073.3L77.70,3074.7L78.65,3074.7L79.98,3072.7L81.89,3068.3L83.23,3063.9L85.04,3056.2L86.19,3050.5L88.57,3037.1L91.05,3022L93.34,3009.4L94.39,3004.3L95.63,2999.3L98.21,2991L100.88,2983.5L101.64,2982.4L103.83,2983.1L105.74,2984.7L112.42,2997.9L117.67,3007.2L122.34,3013.5L126.35,3017.6L128.73,3019L136.94,3022.1L150.96,3032.7L165.56,3038.3L175.00,3040.9L182.35,3044.4L189.41,3049.1L193.89,3054.2L195.70,3055.6L200.76,3055.9L201.62,3055L203.43,3051.1L204.29,3050L212.30,3048.9L214.02,3049.6L217.93,3053L219.65,3053.9L227.85,3055.1L233.57,3052.5L235.77,3052.3L243.97,3056.2L258.09,3060.9L259.87,3060.9L259.87,3080.9L258.09,3080.9L243.78,3076.9L235.77,3073.4L233.57,3073.8L227.85,3076.7L219.77,3076L218.02,3075.1L214.02,3071.6L212.21,3070.9L204.29,3072L203.43,3073.1L201.62,3077L200.76,3077.9L195.80,3077.7L193.98,3076.3L189.31,3071L181.45,3065.9L174.81,3063.1L165.56,3061L151.06,3056.1L136.94,3046L128.64,3043.3L126.16,3042L122.15,3038.1L117.57,3032.1L112.42,3023.3L105.84,3010.6L104.02,3009.1L101.75,3008.4L100.97,3010.1L98.97,3017.5L94.96,3034.2L93.82,3039.7L91.05,3056L89.52,3063.7L86.95,3075.8L85.33,3082.5L83.32,3088.9L81.99,3092L79.70,3094.7L78.08,3094.7L76.93,3093.2L75.41,3090.1L74.36,3086.5L73.12,3081.2L72.07,3075.2L70.54,3064.8L69.40,3056.1L68.35,3047L66.72,3030.2L64.63,3004.4L63.29,2985.3L60.05,2932.8L59.28,2922.3L58.52,2915.4L58.23,2914.1L57.95,2914.5L57.76,2915.8L57.47,2919.1L56.69,2933.8L56.33,2946.5Z"/><path id="ec3" d="M32.95,2916.1L33.81,2951L34.77,2981.5L35.72,3006.1L36.96,3031.7L38.30,3053.9L39.73,3073.3L41.44,3092.2L43.26,3108.6L44.59,3118.9L46.02,3128.7L47.26,3136.1L48.98,3145.3L50.70,3153.5L52.41,3161L56.33,3176L56.99,3177.8L57.38,3178L57.76,3176.3L58.14,3172.4L58.62,3165.7L59.00,3156.6L59.57,3134.8L59.57,3136.9L59.00,3157.8L58.62,3166.4L58.14,3172.5L57.66,3176.9L57.38,3178L56.90,3177.7L56.33,3176L52.32,3160.6L50.60,3153.1L48.89,3144.8L47.26,3136.1L45.93,3128.1L44.50,3118.2L43.16,3107.8L41.35,3091.3L39.63,3072.1L38.20,3052.5L36.87,3029.9L35.62,3003.8L34.67,2978.8L33.72,2947.5L32.95,2916.1ZM61.95,2989.1L62.34,2974.7L63.00,2962.5L63.39,2957.8L63.67,2955.8L63.96,2955.4L64.24,2956.5L65.01,2962.4L69.11,3016.9L71.30,3041.9L72.26,3051L73.50,3061.3L76.55,3083L77.89,3091.1L79.13,3097.1L80.65,3102.9L83.61,3113.1L84.66,3115.9L85.90,3118.2L89.52,3122.9L90.38,3122.5L91.43,3121.1L94.39,3115.4L95.63,3111.9L97.06,3106.5L98.21,3101.3L99.83,3091.8L102.12,3080.4L104.82,3066L108.03,3046.6L110.51,3036.3L111.94,3032L113.56,3028.9L115.28,3026.6L116.90,3025.8L120.34,3025.5L123.58,3028.7L127.87,3028.8L128.83,3028L131.40,3023.8L135.89,3022.8L137.60,3024.3L144.76,3033.8L146.48,3035.3L152.58,3035.4L156.30,3036.2L159.36,3037.4L163.55,3040.5L165.37,3041.3L181.45,3041.9L182.73,3042.3L184.64,3044.1L189.02,3049.8L200.09,3060.7L204.86,3064.4L212.49,3068.8L218.98,3073.8L226.80,3075.2L235.58,3074.6L237.68,3075.4L242.54,3078.6L245.69,3079.6L247.41,3079.7L250.17,3078.5L252.65,3078.3L255.42,3078.8L258.09,3080.2L259.87,3080.2L259.87,3108.2L258.09,3108.2L255.23,3105.8L252.18,3104.4L246.36,3103.9L236.15,3098L226.32,3098.9L218.31,3097.6L212.49,3093.6L204.76,3089.9L199.80,3086.6L189.02,3077L184.73,3071.9L182.92,3070.3L181.58,3069.9L165.17,3070.1L159.26,3065L155.06,3062.7L151.53,3061.5L146.00,3061L142.76,3057.3L137.03,3049.6L135.79,3048.8L134.36,3048.8L131.31,3049.9L128.83,3054L127.87,3054.8L123.58,3054.7L120.34,3051.5L117.95,3052.2L115.38,3053.8L112.90,3057.9L111.85,3060.4L110.80,3063.7L108.22,3074.8L102.78,3108.5L99.83,3125.8L98.01,3132.1L96.01,3135.7L94.58,3136.8L92.10,3136.1L90.48,3134.7L86.85,3129.5L84.28,3124.6L82.85,3120.1L79.79,3109L78.42,3103L77.31,3096.9L75.88,3087.4L73.88,3073L72.54,3062.2L71.49,3052.4L69.20,3026.5L65.01,2970.5L64.63,2967.1L64.15,2964L63.86,2963.3L63.58,2963.9L63.29,2966L63.00,2969.3L62.34,2980.6L61.95,2994.5Z"/><path id="ec4" d="M32.95,2916.1L33.91,2954.4L34.96,2986.9L36.20,3016.5L37.63,3043.4L39.25,3067.2L41.16,3089.3L42.11,3098.6L43.26,3108.6L45.64,3126.2L47.17,3135.6L48.98,3145.3L50.89,3154.4L52.89,3162.9L55.09,3170.9L57.18,3177.7L61.76,3191.1L62.62,3192.7L63.00,3192.4L63.48,3189.9L64.05,3185L64.43,3179.4L65.01,3163.6L65.77,3133.7L65.77,3136.8L65.01,3165.6L64.43,3180.7L64.15,3184.8L63.82,3187.8L63.10,3192L62.62,3192.7L61.76,3191.1L57.09,3177.4L55.00,3170.6L52.80,3162.5L50.79,3154L48.89,3144.8L47.07,3135.1L45.55,3125.5L43.16,3107.8L42.02,3097.7L41.06,3088.3L39.25,3067.2L37.63,3043.4L36.20,3016.5L34.96,2986.9L33.91,2954.4L32.95,2916.1ZM67.56,3028L68.06,3006.5L68.44,2995.7L68.82,2991.1L69.20,2987.9L69.59,2986.4L69.87,2986.9L70.73,2991L71.49,2997.5L73.21,3018.2L75.12,3039.7L76.17,3049.8L77.50,3060.6L79.13,3071.9L81.13,3083.8L83.61,3097L85.71,3106.5L90.57,3124.9L94.96,3138.9L100.11,3153.9L109.56,3178.3L111.75,3183.2L113.56,3186.1L117.00,3190.1L120.15,3192.5L124.25,3190.1L127.81,3185.7L129.59,3184.2L131.59,3181.8L137.51,3172.6L139.80,3168.1L142.09,3162.7L144.19,3156.9L146.38,3148.6L148.29,3140.3L150.80,3127.3L153.92,3113.6L158.46,3095.7L164.98,3075.2L167.37,3071L168.99,3069.4L172.04,3068.9L177.77,3070.1L179.67,3071L181.58,3072.6L182.63,3074.7L185.11,3082.3L188.55,3091L191.31,3095.5L193.70,3097.7L203.81,3103.4L217.55,3109L226.99,3115.4L235.67,3117.9L258.09,3128.6L259.87,3128.6L259.87,3140.6L258.09,3140.6L235.77,3131.1L226.99,3129.1L217.74,3123.3L212.01,3120.9L203.81,3118.4L193.51,3113.3L191.12,3111.1L188.45,3106.9L185.02,3098.6L182.63,3091.6L181.68,3089.7L178.43,3087.7L173.66,3087.5L171.47,3089.3L168.80,3092.7L167.27,3095.9L165.84,3100.2L164.41,3107.2L158.46,3141.7L154.59,3161.8L150.80,3183.3L147.91,3195L145.43,3202.8L144.09,3206.2L142.95,3208.3L140.56,3211.4L138.18,3213.6L135.98,3214.8L131.79,3216.2L129.69,3216.3L127.87,3215.7L124.15,3210.7L120.15,3202.5L117.76,3199.5L115.28,3195.7L111.75,3189.2L110.03,3185.5L100.30,3160.5L95.63,3146.8L91.15,3132.8L86.38,3115.5L84.28,3106.8L81.99,3095.3L79.60,3081.9L77.70,3069.3L76.36,3058.7L75.21,3048.1L73.21,3025.8L71.49,3005.4L70.73,2998.9L69.87,2994.8L69.49,2994.5L69.20,2995.4L68.82,2998.1L68.44,3002.2L68.06,3012.5L67.56,3033.3Z"/></defs><g clip-path="url(#clipc)"><g transform="scale(7.86,1)" stroke-linejoin="round"><use href="#ec0" fill="#FFBB00" stroke="#FFBB00" stroke-width="1.145"/><use href="#ec1" fill="#FF908A" stroke="#FF908A" stroke-width="1.145"/><use href="#ec2" fill="#FFB0DC" stroke="#FFB0DC" stroke-width="1.145"/><use href="#ec3" fill="#33CCFF" stroke="#33CCFF" stroke-width="1.145"/><use href="#ec4" fill="#80F5A8" stroke="#80F5A8" stroke-width="1.145"/></g><use href="#ec0" transform="scale(7.86,1)" fill="none" stroke="#FFBB00" stroke-width="1.4"/><path d="M227.5,2257.7L229.3,2392.7L231.3,2493.9L234.3,2602L237.3,2677.3L241,2746L244.8,2797.3L250,2851.4L256,2897.3L267.3,2963.5L268.8,2969L270.3,2971.8L270.7,2971.9L271,2971.5L271.8,2967.7L274,2941.6L285.3,2722.1L287.5,2699.5L289,2690.4L289.8,2688.9L290.5,2690.3L291.3,2694.3L292.8,2706.6L295.8,2753L305.5,2868.1L310.8,2914.8L316,2949.8L320.5,2973.3L322.5,2980.2L325.8,2988.8L328.7,2994.9L331.7,2999.3L337,3004.2L341.5,3007.2L343.7,3007.9L346,3007.9L349,3005.8L353.5,2999L358.7,2987.4L364.7,2962L370.7,2940L379,2902.2L383.5,2884.3L388,2868.3L393.2,2854.4L397,2846.3L400,2841.9L407.5,2835.8L410.5,2834.5L413.5,2834.1L420.2,2834.9L429.2,2837.2L433.7,2838.9L438.2,2841.7L455.5,2856L496,2897.3L507.2,2907.4L518.5,2916.6L527.5,2923L538,2929.4L575.4,2950.4L591.2,2958.4L606.2,2965.2L618.2,2969.8L662.4,2982L714.9,2992.6L755.4,2998.2L766.6,2999.4L787.6,3000.7L813.1,3004.9L823.9,3005.7L887.4,3005.6L912.9,3002.1L931.6,3000.2L942.1,2999.6L961.6,2999.9L1039.6,3002.8L1071.8,3003.2L1126.6,3002.1L1148.3,2998.8L1155.1,2998.2L1248.8,2998.3L1259.3,2999L1277.3,3001.2L1304.3,3005.6L1349.3,3008.5L1479.7,3022.8L1505.2,3024.2L1607.9,3028.3L1664.2,3033.1L1714.4,3036.3L1769.9,3038.3L1805.2,3038.3L1852.4,3036.5L1901.1,3031.9L1912.4,3031.8L1947.6,3032.9L1992.6,3030.1L2000.9,3030.6L2009.9,3032.2L2018.9,3034.8L2028.6,3038.4L2042.6,3038.4" fill="none" stroke="#E07800" stroke-width="7.5" stroke-linejoin="round" stroke-linecap="butt"/><use href="#ec1" transform="scale(7.86,1)" fill="none" stroke="#FF908A" stroke-width="1.4"/><path d="M227.5,2257.7L229.3,2392.7L231.3,2493.9L233.5,2578.8L236.5,2660.5L240.3,2733.8L244,2788.2L249.3,2844.6L254.5,2887L261.3,2928.7L269.5,2967.2L278.5,2999.3L289,3028.1L295,3041.8L301,3053.9L307,3064.7L313.8,3075.6L322,3087.3L341.5,3112.7L346,3117.6L349.7,3120.2L352.7,3120.8L353.5,3120.2L355,3116.6L358,3102.9L361.7,3080.7L366.2,3039.4L374.5,2937.8L378.8,2900.1L387.2,2860.9L391,2852L392.5,2849.9L393.8,2849.2L395.5,2849.9L397,2851.6L400,2856.8L405.2,2876L412.7,2899.1L422.5,2926.4L430.7,2947.6L442,2972.2L455.5,2997.1L468.2,3017.2L477.2,3029.3L484,3037L493,3044.6L499.7,3049.2L505,3051.5L512.5,3053L517.7,3053.1L523.7,3051.6L532,3047.6L536.5,3044L549.2,3029.3L572.4,2997.8L585.2,2982L600.9,2965.6L612.2,2956L623.4,2949.5L635.4,2945.2L651.9,2942.4L666.2,2941.4L678.2,2942.1L693.9,2944.2L716.8,2949.5L741.9,2956L765.9,2963.9L786.9,2970.1L817.6,2982.4L832.6,2987.2L864.9,2996L906.9,3005.7L953.4,3014.9L999.8,3022.6L1047.8,3028.9L1100.3,3034.2L1122.8,3035.6L1167.8,3036.7L1251,3036.9L1303.5,3038.3L1363.5,3037.6L1389.8,3038.1L1445.2,3041.1L1491,3045.2L1531.5,3050L1555.5,3051.1L1607.9,3051.8L1671.7,3050.9L1724.9,3053.4L1787.9,3054.5L1802.2,3054L1844.1,3051.2L1913.1,3050.8L1942.4,3052L2028.6,3057.5L2042.6,3057.5" fill="none" stroke="#FF0000" stroke-width="7.5" stroke-linejoin="round" stroke-linecap="butt"/><use href="#ec2" transform="scale(7.86,1)" fill="none" stroke="#FFB0DC" stroke-width="1.4"/><path d="M227.5,2257.7L229.3,2392.7L231.7,2513.7L234.3,2602L238,2693L242.5,2768.3L247.8,2830.2L254.5,2887L262,2932.7L266.5,2954.4L271,2973.1L276.3,2992L281.5,3008.2L287.5,3024.3L294.3,3040.2L301.8,3055.3L309.3,3068.5L317.5,3081.1L325.8,3092.2L334.7,3102.9L345.2,3113.9L354.2,3122.3L364,3130.5L390.2,3151.1L399.2,3156.7L405.2,3158.6L407.9,3158.8L409,3158.2L410.5,3155.8L412,3152L416.5,3137.1L420.2,3117.8L424.7,3088.4L436.7,2985.5L442.7,2943.2L445,2932.2L449.5,2919.6L453.2,2912.1L455.5,2909.7L457,2909.1L458.5,2909.4L460.7,2911L466.7,2918.1L474.2,2931.6L496.7,2977.6L505.7,2994L513.2,3006.4L523,3021L530.5,3031.3L537.2,3039.5L545.4,3048.3L553.7,3056.1L565.7,3066.2L573.9,3072L583.7,3077.2L591.9,3080.6L602.4,3083.2L611.4,3084.6L616.7,3084.8L622.7,3084.5L636.9,3081.8L648.2,3078.8L661.7,3073.1L674.4,3066.6L692.4,3055.2L734.4,3025.4L744.2,3019.3L756.9,3012.7L776.4,3003.8L793.6,2996.7L799.6,2995.4L816.1,2996L831.1,2997.6L857.4,3003.7L883.6,3010.6L924.9,3019.8L960.9,3025.8L992.3,3029.8L1011.8,3031.2L1076.3,3034L1168.6,3043L1187.3,3044.5L1301.3,3049.7L1374.8,3052L1429.5,3055.1L1488,3060L1524.7,3065.3L1539,3066.7L1578,3066.9L1584.7,3066L1599,3062.1L1605.7,3061L1667.9,3059.9L1682.2,3060.6L1712.9,3064L1727.2,3064.9L1790.9,3065.9L1835.9,3063.1L1853.1,3062.9L1916.9,3066.6L2028.6,3070.9L2042.6,3070.9" fill="none" stroke="#FF00FF" stroke-width="7.5" stroke-linejoin="round" stroke-linecap="butt"/><use href="#ec3" transform="scale(7.86,1)" fill="none" stroke="#33CCFF" stroke-width="1.4"/><path d="M227.5,2257.7L229.3,2392.7L232,2525L235,2622.9L239.5,2721L244.4,2792.7L250.8,2857.9L254.5,2887L258.3,2911.6L262.8,2936.5L268,2961L273.3,2981.5L279.3,3001.6L286,3020.5L292.8,3036.8L300.3,3052.5L308.5,3067.2L317.5,3081.1L327.3,3094.1L337,3105.4L348.2,3116.8L360.2,3127.4L372.2,3136.7L387.2,3146.7L403,3156.1L415,3162.5L433.7,3171.3L442.7,3176L446.5,3177.5L450.2,3178.1L451.7,3177.8L454,3176.3L457,3172.5L460.7,3166L463.7,3157.2L467.5,3139.8L469.7,3126.3L481,3031.9L487.7,2987.6L490,2977.6L493.7,2968.8L498.2,2961.5L499.7,2960.1L501.8,2959.3L503.5,2959.6L505.7,2961L511,2966.4L515.9,2975.3L543.9,3022.3L553.7,3036.9L561.9,3048.1L570.2,3057.9L579.2,3067.2L603.2,3088.7L613.7,3096.7L623.4,3102.5L635.4,3108.3L658.7,3118.4L666.2,3120.9L677.4,3123.6L706.7,3128.3L721.7,3128.2L743.4,3125.9L753.9,3123.4L767.1,3118.7L776.4,3113.9L793.6,3102.8L824.4,3080.6L849.1,3061.2L867.1,3051.3L880.6,3045.8L899.4,3041.3L912.1,3039.6L933.9,3038.7L948.9,3038.7L972.1,3041.7L1005.1,3041.8L1012.6,3041L1032.8,3036.8L1052.3,3035.9L1068.1,3035.8L1080.1,3037.1L1122.1,3044.3L1141.6,3047.3L1150.6,3048.2L1194,3048.4L1222.5,3049.5L1251.8,3051.1L1286.3,3054.8L1301.3,3055.8L1426.5,3055.9L1437,3056.3L1451.2,3057.9L1485.7,3063.4L1534.5,3069.5L1571.2,3073.6L1610.2,3077.2L1670.2,3081.2L1718.2,3085.6L1780.4,3087.1L1853.9,3086.3L1934.1,3091.7L1945.4,3091.9L1966.4,3091.2L1983.6,3091.4L2006.9,3092.4L2028.6,3094.2L2042.6,3094.2" fill="none" stroke="#0000FF" stroke-width="7.5" stroke-linejoin="round" stroke-linecap="butt"/><use href="#ec4" transform="scale(7.86,1)" fill="none" stroke="#80F5A8" stroke-width="1.4"/><path d="M227.5,2257.7L229.3,2392.7L232,2525L235,2622.9L239,2711.2L243.3,2778.5L249.3,2844.6L253,2875.9L256.8,2902.2L260.7,2925.4L265,2947.5L270.3,2970.2L275.5,2989.5L280.8,3006.1L287.5,3024.3L294.3,3040.2L301.8,3055.3L310,3069.7L319,3083.2L328,3095L338.5,3107L349.7,3118.2L361.7,3128.7L373.7,3137.7L388.7,3147.7L403.7,3156.5L418.7,3164.3L446.5,3176.5L488.5,3192.1L493,3192.7L495.2,3192.4L499,3189.9L503.5,3185.4L506.5,3180L509.5,3170.7L517,3135.3L523.7,3089.2L529.7,3039L535,3009.5L537.2,3000.9L538.5,2997.9L543.2,2992.2L545.4,2990.8L546.9,2990.4L549.9,2991.2L554.4,2993.8L561.2,3000.6L565.7,3006.6L575.4,3022L591.2,3044.4L600.2,3055.1L610.7,3065.7L624.9,3077.8L642.2,3090.4L660.2,3102.2L675.9,3110.9L714.2,3128.9L748.7,3142.7L787.6,3157.2L864.1,3182.2L882.1,3187.1L910.6,3192.8L933.9,3196.3L962.4,3199.4L980.3,3200.6L1005.8,3200.7L1019.3,3200.2L1035.1,3199L1068.8,3195L1086.8,3192.4L1108.6,3188.1L1128.8,3182.9L1146.1,3176.3L1166.3,3166.5L1188,3153.6L1220.3,3133.1L1269,3105L1297.5,3089.3L1305.8,3086L1321.5,3082L1329.8,3080.7L1350.8,3078.9L1365.8,3078.5L1398,3078.9L1412.2,3079.6L1427.2,3081.1L1435.5,3083.1L1455,3090.6L1482,3099L1503,3103.3L1521.7,3105.5L1602,3110.9L1665.7,3113.6L1710.7,3116.1L1733.9,3117.8L1784.2,3122.2L1852.4,3124.5L2028.6,3134.6L2042.6,3134.6" fill="none" stroke="#008000" stroke-width="7.5" stroke-linejoin="round" stroke-linecap="butt"/><path d="M227.5,2298.5L229.9,2462L232.3,2567.4L234.7,2642.6L238.3,2723.6L243.1,2798.3L247.9,2851.5L254,2900.6L257.6,2924L262.4,2950.2L267.2,2972.2L272,2990.9L276.8,3007.2L282.8,3024.7L288.8,3039.8L296,3055.5L303.2,3069.1L310.4,3081L318.8,3093.2L327.2,3103.8L336.9,3114.6L347.7,3125.2L359.7,3135.5L371.7,3144.5L384.9,3153.2L398.1,3161L413.8,3169.1L431.8,3177.3L449.8,3184.5L470.2,3191.7L491.9,3198.4L514.7,3204.7L539.9,3210.8L566.4,3216.5L624,3226.9L690.1,3236.4L764.6,3244.9L849.9,3252.7L946,3259.9L1054.2,3266.3L1175.5,3272.2L1312.5,3277.7L1463.9,3282.6L1633.3,3287.2L1820.7,3291.4L2028.6,3295.2" fill="none" stroke="#000" stroke-width="7.5" stroke-dasharray="13,12"/></g>
<rect x="221.5" y="2512.6" width="1807.1" height="843.7000000000003" fill="none" stroke="#000" stroke-width="3"/><path d="M221.5,3356.3v-9.5M221.5,2512.6v9.5M522.7,3356.3v-9.5M522.7,2512.6v9.5M823.9,3356.3v-9.5M823.9,2512.6v9.5M1125.0,3356.3v-9.5M1125.0,2512.6v9.5M1426.2,3356.3v-9.5M1426.2,2512.6v9.5M1727.4,3356.3v-9.5M1727.4,2512.6v9.5M2028.6,3356.3v-9.5M2028.6,2512.6v9.5M221.5,3356.3h9.5M2028.6,3356.3h-9.5M221.5,3262.6h9.5M2028.6,3262.6h-9.5M221.5,3168.8h9.5M2028.6,3168.8h-9.5M221.5,3075.1h9.5M2028.6,3075.1h-9.5M221.5,2981.3h9.5M2028.6,2981.3h-9.5M221.5,2887.6h9.5M2028.6,2887.6h-9.5M221.5,2793.9h9.5M2028.6,2793.9h-9.5M221.5,2700.1h9.5M2028.6,2700.1h-9.5M221.5,2606.4h9.5M2028.6,2606.4h-9.5M221.5,2512.6h9.5M2028.6,2512.6h-9.5" stroke="#000" stroke-width="1.2" fill="none"/>
<g class="tk"><text x="224.5" y="3396.3" text-anchor="middle">0</text><text x="525.7" y="3396.3" text-anchor="middle">5000</text><text x="826.9" y="3396.3" text-anchor="middle">10000</text><text x="1128.0" y="3396.3" text-anchor="middle">15000</text><text x="1429.2" y="3396.3" text-anchor="middle">20000</text><text x="1730.4" y="3396.3" text-anchor="middle">25000</text><text x="2031.6" y="3396.3" text-anchor="middle">30000</text><text x="218.7" y="3274.6" text-anchor="end">0.01</text><text x="218.7" y="3180.8" text-anchor="end">0.02</text><text x="218.7" y="3087.1" text-anchor="end">0.03</text><text x="218.7" y="2993.3" text-anchor="end">0.04</text><text x="218.7" y="2899.6" text-anchor="end">0.05</text><text x="218.7" y="2805.9" text-anchor="end">0.06</text><text x="218.7" y="2712.1" text-anchor="end">0.07</text><text x="218.7" y="2618.4" text-anchor="end">0.08</text><text x="218.7" y="2524.6" text-anchor="end">0.09</text><text x="218.7" y="3368.3" text-anchor="end">0.0</text></g>
<rect x="1356.6" y="2537.4" width="649.0" height="403.9" fill="#fff" stroke="#000" stroke-width="3"/><path d="M1391.0,2552.7V2603.7" stroke="#FFBB00" stroke-width="7.2"/><path d="M1384.0,2552.7h14.0M1384.0,2603.7h14.0" stroke="#FFBB00" stroke-width="1.2"/><path d="M1462.0,2552.7V2603.7" stroke="#FFBB00" stroke-width="7.2"/><path d="M1455.0,2552.7h14.0M1455.0,2603.7h14.0" stroke="#FFBB00" stroke-width="1.2"/><path d="M1387.4,2578.2H1465.6" stroke="#E07800" stroke-width="6.7"/><text x="1518.0" y="2596.8" font-size="52.9" class="mi" stroke="#000" stroke-width="1.40" stroke-linejoin="round" textLength="21.0" lengthAdjust="spacingAndGlyphs">δ</text><text x="1538.3" y="2608.0" font-size="35.5" class="mi" stroke="#000" stroke-width="1.10" stroke-linejoin="round" textLength="24.7" lengthAdjust="spacingAndGlyphs">C</text><text x="1583.4" y="2600.3" font-size="52.9" class="mr" stroke="#000" stroke-width="1.30" stroke-linejoin="round" textLength="43.3" lengthAdjust="spacingAndGlyphs">=</text><text x="1626.1" y="2596.8" font-size="52.9" class="mr" stroke="#000" stroke-width="1.70" stroke-linejoin="round" textLength="67.6" lengthAdjust="spacingAndGlyphs">0.5</text><text x="1693.2" y="2596.8" font-size="52.9" class="mr" stroke="#000" stroke-width="1.70" stroke-linejoin="round" textLength="15.6" lengthAdjust="spacingAndGlyphs">,</text><text x="1726.0" y="2596.8" font-size="52.9" class="mi" stroke="#000" stroke-width="1.40" stroke-linejoin="round" textLength="20.6" lengthAdjust="spacingAndGlyphs">δ</text><text x="1748.7" y="2608.0" font-size="35.5" class="mi" stroke="#000" stroke-width="1.10" stroke-linejoin="round" textLength="27.8" lengthAdjust="spacingAndGlyphs">B</text><text x="1788.7" y="2608.8" font-size="77.0" class="mr" stroke="#000" stroke-width="1.00" stroke-linejoin="round" textLength="22.5" lengthAdjust="spacingAndGlyphs">/</text><text x="1813.9" y="2596.8" font-size="52.9" class="mi" stroke="#000" stroke-width="1.40" stroke-linejoin="round" textLength="20.5" lengthAdjust="spacingAndGlyphs">δ</text><text x="1834.3" y="2608.0" font-size="35.5" class="mi" stroke="#000" stroke-width="1.10" stroke-linejoin="round" textLength="24.2" lengthAdjust="spacingAndGlyphs">C</text><text x="1878.9" y="2600.3" font-size="52.9" class="mr" stroke="#000" stroke-width="1.30" stroke-linejoin="round" textLength="41.6" lengthAdjust="spacingAndGlyphs">=</text><text x="1918.5" y="2596.8" font-size="52.9" class="mr" stroke="#000" stroke-width="1.70" stroke-linejoin="round" textLength="67.9" lengthAdjust="spacingAndGlyphs">2.0</text><path d="M1391.0,2630.3V2681.3" stroke="#FF908A" stroke-width="7.2"/><path d="M1384.0,2630.3h14.0M1384.0,2681.3h14.0" stroke="#FF908A" stroke-width="1.2"/><path d="M1462.0,2630.3V2681.3" stroke="#FF908A" stroke-width="7.2"/><path d="M1455.0,2630.3h14.0M1455.0,2681.3h14.0" stroke="#FF908A" stroke-width="1.2"/><path d="M1387.4,2655.8H1465.6" stroke="#FF0000" stroke-width="6.7"/><text x="1518.0" y="2674.4" font-size="52.9" class="mi" stroke="#000" stroke-width="1.40" stroke-linejoin="round" textLength="21.0" lengthAdjust="spacingAndGlyphs">δ</text><text x="1538.3" y="2685.6" font-size="35.5" class="mi" stroke="#000" stroke-width="1.10" stroke-linejoin="round" textLength="24.7" lengthAdjust="spacingAndGlyphs">C</text><text x="1583.4" y="2677.9" font-size="52.9" class="mr" stroke="#000" stroke-width="1.30" stroke-linejoin="round" textLength="43.3" lengthAdjust="spacingAndGlyphs">=</text><text x="1626.1" y="2674.4" font-size="52.9" class="mr" stroke="#000" stroke-width="1.70" stroke-linejoin="round" textLength="67.5" lengthAdjust="spacingAndGlyphs">0.8</text><text x="1693.2" y="2674.4" font-size="52.9" class="mr" stroke="#000" stroke-width="1.70" stroke-linejoin="round" textLength="15.6" lengthAdjust="spacingAndGlyphs">,</text><text x="1726.0" y="2674.4" font-size="52.9" class="mi" stroke="#000" stroke-width="1.40" stroke-linejoin="round" textLength="20.6" lengthAdjust="spacingAndGlyphs">δ</text><text x="1748.7" y="2685.6" font-size="35.5" class="mi" stroke="#000" stroke-width="1.10" stroke-linejoin="round" textLength="27.8" lengthAdjust="spacingAndGlyphs">B</text><text x="1788.7" y="2686.4" font-size="77.0" class="mr" stroke="#000" stroke-width="1.00" stroke-linejoin="round" textLength="22.5" lengthAdjust="spacingAndGlyphs">/</text><text x="1813.9" y="2674.4" font-size="52.9" class="mi" stroke="#000" stroke-width="1.40" stroke-linejoin="round" textLength="20.5" lengthAdjust="spacingAndGlyphs">δ</text><text x="1834.3" y="2685.6" font-size="35.5" class="mi" stroke="#000" stroke-width="1.10" stroke-linejoin="round" textLength="24.2" lengthAdjust="spacingAndGlyphs">C</text><text x="1878.9" y="2677.9" font-size="52.9" class="mr" stroke="#000" stroke-width="1.30" stroke-linejoin="round" textLength="41.6" lengthAdjust="spacingAndGlyphs">=</text><text x="1915.9" y="2674.4" font-size="52.9" class="mr" stroke="#000" stroke-width="1.70" stroke-linejoin="round" textLength="71.6" lengthAdjust="spacingAndGlyphs">1.2</text><path d="M1391.0,2707.9V2758.9" stroke="#FFB0DC" stroke-width="7.2"/><path d="M1384.0,2707.9h14.0M1384.0,2758.9h14.0" stroke="#FFB0DC" stroke-width="1.2"/><path d="M1462.0,2707.9V2758.9" stroke="#FFB0DC" stroke-width="7.2"/><path d="M1455.0,2707.9h14.0M1455.0,2758.9h14.0" stroke="#FFB0DC" stroke-width="1.2"/><path d="M1387.4,2733.4H1465.6" stroke="#FF00FF" stroke-width="6.7"/><text x="1518.0" y="2752.0" font-size="52.9" class="mi" stroke="#000" stroke-width="1.40" stroke-linejoin="round" textLength="21.0" lengthAdjust="spacingAndGlyphs">δ</text><text x="1538.3" y="2763.2" font-size="35.5" class="mi" stroke="#000" stroke-width="1.10" stroke-linejoin="round" textLength="24.7" lengthAdjust="spacingAndGlyphs">C</text><text x="1583.4" y="2755.5" font-size="52.9" class="mr" stroke="#000" stroke-width="1.30" stroke-linejoin="round" textLength="43.3" lengthAdjust="spacingAndGlyphs">=</text><text x="1623.2" y="2752.0" font-size="52.9" class="mr" stroke="#000" stroke-width="1.70" stroke-linejoin="round" textLength="70.5" lengthAdjust="spacingAndGlyphs">1.0</text><text x="1693.2" y="2752.0" font-size="52.9" class="mr" stroke="#000" stroke-width="1.70" stroke-linejoin="round" textLength="15.6" lengthAdjust="spacingAndGlyphs">,</text><text x="1726.0" y="2752.0" font-size="52.9" class="mi" stroke="#000" stroke-width="1.40" stroke-linejoin="round" textLength="20.6" lengthAdjust="spacingAndGlyphs">δ</text><text x="1748.7" y="2763.2" font-size="35.5" class="mi" stroke="#000" stroke-width="1.10" stroke-linejoin="round" textLength="27.8" lengthAdjust="spacingAndGlyphs">B</text><text x="1788.7" y="2764.0" font-size="77.0" class="mr" stroke="#000" stroke-width="1.00" stroke-linejoin="round" textLength="22.5" lengthAdjust="spacingAndGlyphs">/</text><text x="1813.9" y="2752.0" font-size="52.9" class="mi" stroke="#000" stroke-width="1.40" stroke-linejoin="round" textLength="20.5" lengthAdjust="spacingAndGlyphs">δ</text><text x="1834.3" y="2763.2" font-size="35.5" class="mi" stroke="#000" stroke-width="1.10" stroke-linejoin="round" textLength="24.2" lengthAdjust="spacingAndGlyphs">C</text><text x="1878.9" y="2755.5" font-size="52.9" class="mr" stroke="#000" stroke-width="1.30" stroke-linejoin="round" textLength="41.6" lengthAdjust="spacingAndGlyphs">=</text><text x="1915.9" y="2752.0" font-size="52.9" class="mr" stroke="#000" stroke-width="1.70" stroke-linejoin="round" textLength="70.5" lengthAdjust="spacingAndGlyphs">1.0</text><path d="M1391.0,2785.5V2836.5" stroke="#33CCFF" stroke-width="7.2"/><path d="M1384.0,2785.5h14.0M1384.0,2836.5h14.0" stroke="#33CCFF" stroke-width="1.2"/><path d="M1462.0,2785.5V2836.5" stroke="#33CCFF" stroke-width="7.2"/><path d="M1455.0,2785.5h14.0M1455.0,2836.5h14.0" stroke="#33CCFF" stroke-width="1.2"/><path d="M1387.4,2811.0H1465.6" stroke="#0000FF" stroke-width="6.7"/><text x="1518.0" y="2829.6" font-size="52.9" class="mi" stroke="#000" stroke-width="1.40" stroke-linejoin="round" textLength="21.0" lengthAdjust="spacingAndGlyphs">δ</text><text x="1538.3" y="2840.8" font-size="35.5" class="mi" stroke="#000" stroke-width="1.10" stroke-linejoin="round" textLength="24.7" lengthAdjust="spacingAndGlyphs">C</text><text x="1583.4" y="2833.1" font-size="52.9" class="mr" stroke="#000" stroke-width="1.30" stroke-linejoin="round" textLength="43.3" lengthAdjust="spacingAndGlyphs">=</text><text x="1623.2" y="2829.6" font-size="52.9" class="mr" stroke="#000" stroke-width="1.70" stroke-linejoin="round" textLength="71.6" lengthAdjust="spacingAndGlyphs">1.2</text><text x="1693.2" y="2829.6" font-size="52.9" class="mr" stroke="#000" stroke-width="1.70" stroke-linejoin="round" textLength="15.6" lengthAdjust="spacingAndGlyphs">,</text><text x="1726.0" y="2829.6" font-size="52.9" class="mi" stroke="#000" stroke-width="1.40" stroke-linejoin="round" textLength="20.6" lengthAdjust="spacingAndGlyphs">δ</text><text x="1748.7" y="2840.8" font-size="35.5" class="mi" stroke="#000" stroke-width="1.10" stroke-linejoin="round" textLength="27.8" lengthAdjust="spacingAndGlyphs">B</text><text x="1788.7" y="2841.6" font-size="77.0" class="mr" stroke="#000" stroke-width="1.00" stroke-linejoin="round" textLength="22.5" lengthAdjust="spacingAndGlyphs">/</text><text x="1813.9" y="2829.6" font-size="52.9" class="mi" stroke="#000" stroke-width="1.40" stroke-linejoin="round" textLength="20.5" lengthAdjust="spacingAndGlyphs">δ</text><text x="1834.3" y="2840.8" font-size="35.5" class="mi" stroke="#000" stroke-width="1.10" stroke-linejoin="round" textLength="24.2" lengthAdjust="spacingAndGlyphs">C</text><text x="1878.9" y="2833.1" font-size="52.9" class="mr" stroke="#000" stroke-width="1.30" stroke-linejoin="round" textLength="41.6" lengthAdjust="spacingAndGlyphs">=</text><text x="1918.8" y="2829.6" font-size="52.9" class="mr" stroke="#000" stroke-width="1.70" stroke-linejoin="round" textLength="67.5" lengthAdjust="spacingAndGlyphs">0.8</text><path d="M1391.0,2863.1V2914.1" stroke="#80F5A8" stroke-width="7.2"/><path d="M1384.0,2863.1h14.0M1384.0,2914.1h14.0" stroke="#80F5A8" stroke-width="1.2"/><path d="M1462.0,2863.1V2914.1" stroke="#80F5A8" stroke-width="7.2"/><path d="M1455.0,2863.1h14.0M1455.0,2914.1h14.0" stroke="#80F5A8" stroke-width="1.2"/><path d="M1387.4,2888.6H1465.6" stroke="#008000" stroke-width="6.7"/><text x="1518.0" y="2907.2" font-size="52.9" class="mi" stroke="#000" stroke-width="1.40" stroke-linejoin="round" textLength="21.0" lengthAdjust="spacingAndGlyphs">δ</text><text x="1538.3" y="2918.4" font-size="35.5" class="mi" stroke="#000" stroke-width="1.10" stroke-linejoin="round" textLength="24.7" lengthAdjust="spacingAndGlyphs">C</text><text x="1583.4" y="2910.7" font-size="52.9" class="mr" stroke="#000" stroke-width="1.30" stroke-linejoin="round" textLength="43.3" lengthAdjust="spacingAndGlyphs">=</text><text x="1625.8" y="2907.2" font-size="52.9" class="mr" stroke="#000" stroke-width="1.70" stroke-linejoin="round" textLength="67.9" lengthAdjust="spacingAndGlyphs">2.0</text><text x="1693.2" y="2907.2" font-size="52.9" class="mr" stroke="#000" stroke-width="1.70" stroke-linejoin="round" textLength="15.6" lengthAdjust="spacingAndGlyphs">,</text><text x="1726.0" y="2907.2" font-size="52.9" class="mi" stroke="#000" stroke-width="1.40" stroke-linejoin="round" textLength="20.6" lengthAdjust="spacingAndGlyphs">δ</text><text x="1748.7" y="2918.4" font-size="35.5" class="mi" stroke="#000" stroke-width="1.10" stroke-linejoin="round" textLength="27.8" lengthAdjust="spacingAndGlyphs">B</text><text x="1788.7" y="2919.2" font-size="77.0" class="mr" stroke="#000" stroke-width="1.00" stroke-linejoin="round" textLength="22.5" lengthAdjust="spacingAndGlyphs">/</text><text x="1813.9" y="2907.2" font-size="52.9" class="mi" stroke="#000" stroke-width="1.40" stroke-linejoin="round" textLength="20.5" lengthAdjust="spacingAndGlyphs">δ</text><text x="1834.3" y="2918.4" font-size="35.5" class="mi" stroke="#000" stroke-width="1.10" stroke-linejoin="round" textLength="24.2" lengthAdjust="spacingAndGlyphs">C</text><text x="1878.9" y="2910.7" font-size="52.9" class="mr" stroke="#000" stroke-width="1.30" stroke-linejoin="round" textLength="41.6" lengthAdjust="spacingAndGlyphs">=</text><text x="1918.8" y="2907.2" font-size="52.9" class="mr" stroke="#000" stroke-width="1.70" stroke-linejoin="round" textLength="67.6" lengthAdjust="spacingAndGlyphs">0.5</text>
<text class="ylab" font-size="75" transform="translate(99,3001.3) rotate(-90)" x="-1.8" textLength="141.6" lengthAdjust="spacingAndGlyphs">flux</text>
<text class="lab" x="1043.4" y="3472.5" textLength="171.3" lengthAdjust="spacingAndGlyphs">time</text>
<!-- plot d -->
<defs><path id="ed0" d="M28.18,4581.5L28.33,4574.5L28.56,4570.4L29.13,4564.1L29.99,4557.5L31.04,4551.4L32.28,4545.4L33.43,4540.7L35.05,4535.3L35.72,4532.4L36.29,4528.6L37.82,4516.4L38.77,4511.2L40.58,4503.9L45.64,4488.5L47.55,4481.3L49.93,4470.2L54.22,4446.8L58.14,4426.8L60.04,4417.7L64.62,4398.5L73.59,4364.1L82.08,4334.6L104.21,4262.9L110.03,4242.4L123.48,4193.5L129.88,4171.4L147.24,4116.4L178.05,4014.9L189.79,3977.3L203.71,3933.5L216.31,3894.5L235.29,3838.1L258.09,3772.8L259.87,3772.8L259.87,3800.8L258.09,3800.8L250.27,3823L228.33,3886.6L197.90,3977.4L178.15,4038.1L146.48,4137.4L129.40,4188L123.29,4207.9L110.13,4252.9L104.40,4271.8L100.49,4284L96.58,4295.4L82.08,4339.4L72.92,4369.4L68.82,4384.8L64.15,4401.5L59.57,4420L58.04,4427.2L54.03,4447.8L49.93,4470.2L47.36,4482.1L45.54,4488.8L40.58,4503.9L38.77,4511.2L37.82,4516.4L36.29,4528.6L35.72,4532.4L35.05,4535.3L33.43,4540.7L32.28,4545.4L31.04,4551.4L29.99,4557.5L29.13,4564.1L28.56,4570.4L28.33,4574.5L28.18,4581.5Z"/><path id="ed1" d="M28.18,4581.5L28.33,4574.5L28.47,4571.8L28.94,4565.9L29.61,4560.2L30.47,4554.5L31.40,4549.5L33.81,4539.2L36.38,4530.5L39.44,4521.7L42.87,4513.2L46.02,4506.9L47.26,4503.5L48.50,4497.9L52.85,4473.9L54.61,4465.7L56.23,4459.2L61.67,4442.2L68.44,4425.1L71.11,4416.9L73.59,4407.6L80.27,4379.3L84.75,4362.5L89.81,4342.6L94.48,4325.9L110.41,4273.4L130.16,4211L160.69,4118.6L179.67,4059.3L185.59,4041.6L196.18,4011L219.77,3944.2L258.09,3834.6L259.87,3834.6L259.87,3867.4L258.09,3867.4L219.77,3970.8L193.70,4042.6L179.77,4082.2L161.74,4135.1L134.26,4213.3L123.58,4244.9L112.23,4279.5L94.40,4335.7L90.00,4350.7L87.80,4358.5L84.75,4370.3L80.36,4386L74.07,4411.6L71.40,4421.2L68.53,4429.4L61.57,4445.2L57.85,4455.5L56.13,4460.8L54.51,4467L52.70,4475.1L48.41,4498.4L47.17,4503.8L45.83,4507.3L42.78,4513.4L39.82,4520.7L36.86,4529L34.29,4537.5L31.62,4548.5L30.57,4554L29.71,4559.5L28.94,4565.9L28.47,4571.8L28.33,4574.5L28.18,4581.5Z"/><path id="ed2" d="M28.18,4581.5L28.33,4574.5L28.56,4570.4L29.13,4564.1L29.99,4557.5L31.04,4551.4L32.28,4545.4L33.71,4539.6L35.43,4533.5L39.15,4522.5L43.64,4511.4L48.41,4501.4L51.36,4495.7L54.42,4490.6L55.94,4487L57.28,4482.3L59.28,4473.9L62.14,4460L63.86,4452.6L66.44,4442.5L68.82,4434.2L75.40,4414.7L84.47,4392.8L86.28,4387.7L97.63,4350.9L109.17,4312.8L117.47,4286.9L146.09,4203.1L171.37,4130.3L204.76,4036.5L229.19,3969.3L258.09,3891.2L259.87,3891.2L259.87,3914.2L258.09,3914.2L214.02,4029.8L181.45,4116.8L171.95,4143.1L147.43,4212.4L117.19,4299.1L109.27,4323.3L97.15,4362.5L86.85,4393.3L84.56,4399.3L75.40,4419.1L69.20,4435.7L66.63,4443.9L63.76,4454.2L62.14,4460.8L59.76,4472L57.95,4479.6L55.85,4487.3L54.32,4490.8L51.36,4495.7L48.21,4501.7L43.06,4512.8L38.29,4524.8L34.48,4536.8L32.95,4542.6L31.71,4548L30.57,4554L29.71,4559.5L28.94,4565.9L28.47,4571.8L28.33,4574.5L28.18,4581.5Z"/><path id="ed3" d="M28.18,4581.5L28.37,4573.6L28.85,4566.9L29.61,4560.2L30.76,4552.9L32.28,4545.4L34.10,4538.2L36.19,4531.1L38.67,4523.8L43.06,4512.8L48.21,4501.7L53.65,4491.6L59.66,4482.1L61.57,4478.2L63.67,4471.4L68.73,4451.7L71.21,4442.7L74.16,4432.9L77.60,4422.4L85.42,4404.7L91.43,4392.4L98.49,4377.2L106.50,4357.6L113.56,4339.1L119.19,4323.2L137.98,4266.7L151.44,4227.1L180.44,4143.8L192.17,4111.7L213.35,4055.9L229.38,4014.9L241.97,3983.3L258.09,3944L259.87,3944L259.87,3969.2L258.09,3969.2L243.78,4002L220.12,4058.6L202.47,4103.1L180.63,4160.6L152.68,4236.9L139.89,4272.6L119.00,4332.6L113.28,4348L106.12,4365.7L98.20,4384L91.53,4397.1L85.32,4408.6L78.93,4421.5L77.41,4425.1L73.78,4435.5L70.63,4445.5L68.53,4452.8L63.38,4472.4L61.47,4478.4L59.57,4482.2L54.03,4490.9L48.79,4500.6L43.83,4511L39.53,4521.5L36.86,4529L34.57,4536.4L32.57,4544.2L31.04,4551.4L29.71,4559.5L28.85,4566.9L28.37,4573.6L28.18,4581.5Z"/><path id="ed4" d="M28.18,4581.5L28.37,4573.6L28.75,4568L29.52,4560.9L30.47,4554.5L31.71,4548L33.24,4541.4L35.05,4534.8L37.15,4528.1L39.82,4520.7L42.74,4513.5L49.55,4499.1L57.66,4484.8L61.57,4478.6L65.77,4472.9L67.77,4469.2L69.49,4463.9L74.93,4442.6L77.79,4432.4L80.75,4423.7L84.18,4415.2L87.14,4409.1L93.91,4396.2L108.32,4371.6L117.09,4357.8L127.78,4342.8L137.03,4327.8L149.62,4302.9L154.01,4293.4L164.60,4267.5L170.99,4254.2L175.09,4244.8L208.96,4161.7L219.74,4136.4L234.43,4104.9L247.69,4078.1L258.09,4058.7L259.87,4058.7L259.87,4076.7L258.09,4076.7L247.88,4095.5L234.72,4121.7L220.22,4152.4L209.53,4176.9L176.33,4256.8L171.37,4268L164.70,4281.7L154.11,4307.2L151.15,4313.4L143.14,4327.6L139.80,4331.4L127.78,4342.8L115.38,4360.4L107.84,4372.4L97.59,4390.2L94.29,4395.5L84.85,4413.8L81.13,4422.7L77.98,4431.8L74.93,4442.6L69.49,4463.9L67.77,4469.2L65.77,4472.9L61.57,4478.6L57.75,4484.6L49.65,4498.9L42.87,4513.2L39.91,4520.5L37.24,4527.9L35.14,4534.5L33.33,4541.1L31.81,4547.6L30.47,4554.5L29.52,4560.9L28.75,4568L28.37,4573.6L28.18,4581.5Z"/></defs><g clip-path="url(#clipd)"><g transform="scale(7.86,1)" stroke-linejoin="round"><use href="#ed0" fill="#FFBB00" stroke="#FFBB00" stroke-width="1.145"/><use href="#ed1" fill="#FF908A" stroke="#FF908A" stroke-width="1.145"/><use href="#ed2" fill="#FFB0DC" stroke="#FFB0DC" stroke-width="1.145"/><use href="#ed3" fill="#33CCFF" stroke="#33CCFF" stroke-width="1.145"/><use href="#ed4" fill="#80F5A8" stroke="#80F5A8" stroke-width="1.145"/></g><use href="#ed0" transform="scale(7.86,1)" fill="none" stroke="#FFBB00" stroke-width="1.4"/><path d="M221.5,4581.5L222.7,4574.5L224.5,4570.4L229,4564.1L235.7,4557.5L244,4551.4L253.7,4545.4L262.7,4540.7L275.5,4535.3L280.7,4532.4L285.2,4528.6L297.2,4516.4L304.7,4511.2L319,4503.9L358,4488.8L373,4481.7L392.5,4470.2L425.5,4447.3L456.2,4427.2L469.7,4419.1L505.7,4400.2L540.2,4384.2L562.7,4372.8L575.4,4366.9L645.2,4337L759.1,4291.5L789.1,4280L819.9,4267.3L865.6,4247.5L969.8,4200.7L1019.3,4179.6L1153.5,4127.2L1401.7,4025.7L1524.7,3976.7L1623.7,3937.9L1714.4,3902.9L1813.4,3865.6L1912.4,3828.9L2028.6,3786.8L2042.6,3786.8" fill="none" stroke="#E07800" stroke-width="7.5" stroke-linejoin="round" stroke-linecap="butt"/><use href="#ed1" transform="scale(7.86,1)" fill="none" stroke="#FF908A" stroke-width="1.4"/><path d="M221.5,4581.5L222.7,4574.5L223.7,4571.8L227.5,4565.9L232.7,4560.2L239.5,4554.5L247.7,4548.9L256.7,4543.8L268,4538.2L288.2,4529.6L311.5,4521.2L337.7,4513L361.7,4506.9L371.5,4503.5L381.2,4497.9L415,4474.4L428.5,4466.6L441.2,4460.2L454.7,4454.6L484.7,4443.6L537.9,4427.4L560.4,4418.8L579.9,4409.7L630.9,4382.9L666.2,4366.4L690.1,4354.3L706.6,4346.6L741.9,4330.9L765.9,4321.4L811.6,4302.1L873.9,4276.8L958.6,4243.2L1038.8,4212.1L1266.8,4126.9L1413.7,4070.3L1487.2,4043.1L1592.2,4005.4L2028.6,3851L2042.6,3851" fill="none" stroke="#FF0000" stroke-width="7.5" stroke-linejoin="round" stroke-linecap="butt"/><use href="#ed2" transform="scale(7.86,1)" fill="none" stroke="#FFB0DC" stroke-width="1.4"/><path d="M221.5,4581.5L222.7,4574.5L225.2,4569.2L229.7,4563.2L236.6,4556.8L244.7,4550.9L255.2,4544.6L267.2,4538.5L281.5,4532.3L310.7,4521.5L345.2,4510.8L382,4501L404.5,4495.5L427,4490.8L439,4487.3L449.4,4482.7L466.7,4473.6L488.4,4460.4L501.2,4453.6L520.7,4444.2L539.4,4436.1L591.9,4417.1L637.7,4403.4L663.9,4396.1L680.4,4390.5L765.1,4356.9L870.1,4313.3L927.8,4290.9L1022.3,4256.5L1150.5,4208.8L1269.8,4165.9L1346.3,4137.8L1536.7,4070.6L1785.7,3984.8L2028.6,3902.7L2042.6,3902.7" fill="none" stroke="#FF00FF" stroke-width="7.5" stroke-linejoin="round" stroke-linecap="butt"/><use href="#ed3" transform="scale(7.86,1)" fill="none" stroke="#33CCFF" stroke-width="1.4"/><path d="M221.5,4581.5L223,4573.6L226.7,4566.9L233.5,4559.5L243.2,4551.9L255.2,4544.6L270.2,4537.1L287.5,4529.9L307.7,4522.5L341.5,4511.9L381.2,4501.2L433.7,4488.9L470.4,4481.7L483.9,4478.2L499.7,4471.7L539.4,4452.3L557.4,4444.1L581.4,4434.2L609.2,4423.8L620.4,4420.3L671.4,4406.5L718.6,4394.8L772.6,4380.7L834.9,4361.9L891.1,4343.7L936.1,4327.9L1094.3,4268.7L1197,4231.3L1419.7,4151.9L1550.2,4107.4L1636.4,4078.9L1726.4,4049.8L1905.6,3993.6L2028.6,3956.6L2042.6,3956.6" fill="none" stroke="#0000FF" stroke-width="7.5" stroke-linejoin="round" stroke-linecap="butt"/><use href="#ed4" transform="scale(7.86,1)" fill="none" stroke="#80F5A8" stroke-width="1.4"/><path d="M221.5,4581.5L223,4573.6L226,4568L232,4560.9L239.5,4554.5L250,4547.6L262,4541.1L276.2,4534.5L292.7,4527.9L313.7,4520.5L337,4513.2L362.5,4506L390.2,4498.9L453.9,4484.6L483.9,4478.6L516.9,4472.9L532.7,4469.2L546.2,4463.9L588.9,4442.6L612.2,4432.1L636.2,4423.2L664.7,4414.4L739.6,4395.8L766.6,4390.3L816.1,4379.2L868.6,4368L913.6,4359.1L963.8,4349.9L1101.1,4326.6L1131,4320.2L1182.8,4307.9L1210.5,4300.4L1294.5,4274.5L1344,4261.5L1380.7,4250.9L1643.2,4169.7L1726.4,4145.2L1841.9,4113.7L1946.1,4087.2L2028.6,4067.7L2042.6,4067.7" fill="none" stroke="#008000" stroke-width="7.5" stroke-linejoin="round" stroke-linecap="butt"/><path d="M221.5,4581.5L222.7,4574.5L223.9,4571.6L228.7,4564.4L233.6,4559.4L238.4,4555.4L250.4,4547.3L266.1,4539.1L285.4,4530.7L308.3,4522.3L334.8,4513.8L365,4505.4L398.7,4496.9L436.1,4488.4L475.9,4480.1L520.5,4471.6L567.5,4463.3L673.6,4446.4L794.1,4429.4L927.9,4412.6L1076.2,4395.7L1237.8,4378.9L1415,4361.9L1605.5,4345.1L1810.4,4328.2L2028.6,4311.3" fill="none" stroke="#000" stroke-width="7.5" stroke-dasharray="13,12"/></g>
<rect x="221.5" y="3738.3" width="1807.1" height="843.1999999999998" fill="none" stroke="#000" stroke-width="3"/><path d="M221.5,4581.5v-9.5M221.5,3738.3v9.5M522.7,4581.5v-9.5M522.7,3738.3v9.5M823.9,4581.5v-9.5M823.9,3738.3v9.5M1125.0,4581.5v-9.5M1125.0,3738.3v9.5M1426.2,4581.5v-9.5M1426.2,3738.3v9.5M1727.4,4581.5v-9.5M1727.4,3738.3v9.5M2028.6,4581.5v-9.5M2028.6,3738.3v9.5M221.5,4581.5h9.5M2028.6,4581.5h-9.5M221.5,4441.0h9.5M2028.6,4441.0h-9.5M221.5,4300.4h9.5M2028.6,4300.4h-9.5M221.5,4159.9h9.5M2028.6,4159.9h-9.5M221.5,4019.4h9.5M2028.6,4019.4h-9.5M221.5,3878.8h9.5M2028.6,3878.8h-9.5M221.5,3738.3h9.5M2028.6,3738.3h-9.5" stroke="#000" stroke-width="1.2" fill="none"/>
<g class="tk"><text x="224.5" y="4622.0" text-anchor="middle">0</text><text x="525.7" y="4622.0" text-anchor="middle">5000</text><text x="826.9" y="4622.0" text-anchor="middle">10000</text><text x="1128.0" y="4622.0" text-anchor="middle">15000</text><text x="1429.2" y="4622.0" text-anchor="middle">20000</text><text x="1730.4" y="4622.0" text-anchor="middle">25000</text><text x="2031.6" y="4622.0" text-anchor="middle">30000</text><text x="218.7" y="4593.5" text-anchor="end">0.00</text><text x="218.7" y="4453.0" text-anchor="end">0.10</text><text x="218.7" y="4312.4" text-anchor="end">0.20</text><text x="218.7" y="4171.9" text-anchor="end">0.30</text><text x="218.7" y="4031.4" text-anchor="end">0.40</text><text x="218.7" y="3890.8" text-anchor="end">0.50</text><text x="218.7" y="3750.3" text-anchor="end">0.60</text></g>
<rect x="246.4" y="3762.7" width="646.7" height="404.7" fill="#fff" stroke="#000" stroke-width="3"/><path d="M281.4,3777.8V3828.8" stroke="#FFBB00" stroke-width="7.2"/><path d="M274.4,3777.8h14.0M274.4,3828.8h14.0" stroke="#FFBB00" stroke-width="1.2"/><path d="M351.4,3777.8V3828.8" stroke="#FFBB00" stroke-width="7.2"/><path d="M344.4,3777.8h14.0M344.4,3828.8h14.0" stroke="#FFBB00" stroke-width="1.2"/><path d="M277.8,3803.3H355.0" stroke="#E07800" stroke-width="6.7"/><text x="407.8" y="3821.9" font-size="52.9" class="mi" stroke="#000" stroke-width="1.40" stroke-linejoin="round" textLength="21.0" lengthAdjust="spacingAndGlyphs">δ</text><text x="428.1" y="3833.1" font-size="35.5" class="mi" stroke="#000" stroke-width="1.10" stroke-linejoin="round" textLength="24.7" lengthAdjust="spacingAndGlyphs">C</text><text x="473.2" y="3825.4" font-size="52.9" class="mr" stroke="#000" stroke-width="1.30" stroke-linejoin="round" textLength="43.3" lengthAdjust="spacingAndGlyphs">=</text><text x="515.9" y="3821.9" font-size="52.9" class="mr" stroke="#000" stroke-width="1.70" stroke-linejoin="round" textLength="67.6" lengthAdjust="spacingAndGlyphs">0.5</text><text x="583.0" y="3821.9" font-size="52.9" class="mr" stroke="#000" stroke-width="1.70" stroke-linejoin="round" textLength="15.6" lengthAdjust="spacingAndGlyphs">,</text><text x="615.8" y="3821.9" font-size="52.9" class="mi" stroke="#000" stroke-width="1.40" stroke-linejoin="round" textLength="20.6" lengthAdjust="spacingAndGlyphs">δ</text><text x="638.5" y="3833.1" font-size="35.5" class="mi" stroke="#000" stroke-width="1.10" stroke-linejoin="round" textLength="27.8" lengthAdjust="spacingAndGlyphs">B</text><text x="678.5" y="3833.9" font-size="77.0" class="mr" stroke="#000" stroke-width="1.00" stroke-linejoin="round" textLength="22.5" lengthAdjust="spacingAndGlyphs">/</text><text x="703.7" y="3821.9" font-size="52.9" class="mi" stroke="#000" stroke-width="1.40" stroke-linejoin="round" textLength="20.5" lengthAdjust="spacingAndGlyphs">δ</text><text x="724.1" y="3833.1" font-size="35.5" class="mi" stroke="#000" stroke-width="1.10" stroke-linejoin="round" textLength="24.2" lengthAdjust="spacingAndGlyphs">C</text><text x="768.7" y="3825.4" font-size="52.9" class="mr" stroke="#000" stroke-width="1.30" stroke-linejoin="round" textLength="41.6" lengthAdjust="spacingAndGlyphs">=</text><text x="808.3" y="3821.9" font-size="52.9" class="mr" stroke="#000" stroke-width="1.70" stroke-linejoin="round" textLength="67.9" lengthAdjust="spacingAndGlyphs">2.0</text><path d="M281.4,3856.1V3907.1" stroke="#FF908A" stroke-width="7.2"/><path d="M274.4,3856.1h14.0M274.4,3907.1h14.0" stroke="#FF908A" stroke-width="1.2"/><path d="M351.4,3856.1V3907.1" stroke="#FF908A" stroke-width="7.2"/><path d="M344.4,3856.1h14.0M344.4,3907.1h14.0" stroke="#FF908A" stroke-width="1.2"/><path d="M277.8,3881.6H355.0" stroke="#FF0000" stroke-width="6.7"/><text x="407.8" y="3900.2" font-size="52.9" class="mi" stroke="#000" stroke-width="1.40" stroke-linejoin="round" textLength="21.0" lengthAdjust="spacingAndGlyphs">δ</text><text x="428.1" y="3911.4" font-size="35.5" class="mi" stroke="#000" stroke-width="1.10" stroke-linejoin="round" textLength="24.7" lengthAdjust="spacingAndGlyphs">C</text><text x="473.2" y="3903.7" font-size="52.9" class="mr" stroke="#000" stroke-width="1.30" stroke-linejoin="round" textLength="43.3" lengthAdjust="spacingAndGlyphs">=</text><text x="515.9" y="3900.2" font-size="52.9" class="mr" stroke="#000" stroke-width="1.70" stroke-linejoin="round" textLength="67.5" lengthAdjust="spacingAndGlyphs">0.8</text><text x="583.0" y="3900.2" font-size="52.9" class="mr" stroke="#000" stroke-width="1.70" stroke-linejoin="round" textLength="15.6" lengthAdjust="spacingAndGlyphs">,</text><text x="615.8" y="3900.2" font-size="52.9" class="mi" stroke="#000" stroke-width="1.40" stroke-linejoin="round" textLength="20.6" lengthAdjust="spacingAndGlyphs">δ</text><text x="638.5" y="3911.4" font-size="35.5" class="mi" stroke="#000" stroke-width="1.10" stroke-linejoin="round" textLength="27.8" lengthAdjust="spacingAndGlyphs">B</text><text x="678.5" y="3912.2" font-size="77.0" class="mr" stroke="#000" stroke-width="1.00" stroke-linejoin="round" textLength="22.5" lengthAdjust="spacingAndGlyphs">/</text><text x="703.7" y="3900.2" font-size="52.9" class="mi" stroke="#000" stroke-width="1.40" stroke-linejoin="round" textLength="20.5" lengthAdjust="spacingAndGlyphs">δ</text><text x="724.1" y="3911.4" font-size="35.5" class="mi" stroke="#000" stroke-width="1.10" stroke-linejoin="round" textLength="24.2" lengthAdjust="spacingAndGlyphs">C</text><text x="768.7" y="3903.7" font-size="52.9" class="mr" stroke="#000" stroke-width="1.30" stroke-linejoin="round" textLength="41.6" lengthAdjust="spacingAndGlyphs">=</text><text x="805.7" y="3900.2" font-size="52.9" class="mr" stroke="#000" stroke-width="1.70" stroke-linejoin="round" textLength="71.6" lengthAdjust="spacingAndGlyphs">1.2</text><path d="M281.4,3934.4V3985.4" stroke="#FFB0DC" stroke-width="7.2"/><path d="M274.4,3934.4h14.0M274.4,3985.4h14.0" stroke="#FFB0DC" stroke-width="1.2"/><path d="M351.4,3934.4V3985.4" stroke="#FFB0DC" stroke-width="7.2"/><path d="M344.4,3934.4h14.0M344.4,3985.4h14.0" stroke="#FFB0DC" stroke-width="1.2"/><path d="M277.8,3959.9H355.0" stroke="#FF00FF" stroke-width="6.7"/><text x="407.8" y="3978.5" font-size="52.9" class="mi" stroke="#000" stroke-width="1.40" stroke-linejoin="round" textLength="21.0" lengthAdjust="spacingAndGlyphs">δ</text><text x="428.1" y="3989.7" font-size="35.5" class="mi" stroke="#000" stroke-width="1.10" stroke-linejoin="round" textLength="24.7" lengthAdjust="spacingAndGlyphs">C</text><text x="473.2" y="3982.0" font-size="52.9" class="mr" stroke="#000" stroke-width="1.30" stroke-linejoin="round" textLength="43.3" lengthAdjust="spacingAndGlyphs">=</text><text x="513.0" y="3978.5" font-size="52.9" class="mr" stroke="#000" stroke-width="1.70" stroke-linejoin="round" textLength="70.5" lengthAdjust="spacingAndGlyphs">1.0</text><text x="583.0" y="3978.5" font-size="52.9" class="mr" stroke="#000" stroke-width="1.70" stroke-linejoin="round" textLength="15.6" lengthAdjust="spacingAndGlyphs">,</text><text x="615.8" y="3978.5" font-size="52.9" class="mi" stroke="#000" stroke-width="1.40" stroke-linejoin="round" textLength="20.6" lengthAdjust="spacingAndGlyphs">δ</text><text x="638.5" y="3989.7" font-size="35.5" class="mi" stroke="#000" stroke-width="1.10" stroke-linejoin="round" textLength="27.8" lengthAdjust="spacingAndGlyphs">B</text><text x="678.5" y="3990.5" font-size="77.0" class="mr" stroke="#000" stroke-width="1.00" stroke-linejoin="round" textLength="22.5" lengthAdjust="spacingAndGlyphs">/</text><text x="703.7" y="3978.5" font-size="52.9" class="mi" stroke="#000" stroke-width="1.40" stroke-linejoin="round" textLength="20.5" lengthAdjust="spacingAndGlyphs">δ</text><text x="724.1" y="3989.7" font-size="35.5" class="mi" stroke="#000" stroke-width="1.10" stroke-linejoin="round" textLength="24.2" lengthAdjust="spacingAndGlyphs">C</text><text x="768.7" y="3982.0" font-size="52.9" class="mr" stroke="#000" stroke-width="1.30" stroke-linejoin="round" textLength="41.6" lengthAdjust="spacingAndGlyphs">=</text><text x="805.7" y="3978.5" font-size="52.9" class="mr" stroke="#000" stroke-width="1.70" stroke-linejoin="round" textLength="70.5" lengthAdjust="spacingAndGlyphs">1.0</text><path d="M281.4,4012.7V4063.7" stroke="#33CCFF" stroke-width="7.2"/><path d="M274.4,4012.7h14.0M274.4,4063.7h14.0" stroke="#33CCFF" stroke-width="1.2"/><path d="M351.4,4012.7V4063.7" stroke="#33CCFF" stroke-width="7.2"/><path d="M344.4,4012.7h14.0M344.4,4063.7h14.0" stroke="#33CCFF" stroke-width="1.2"/><path d="M277.8,4038.2H355.0" stroke="#0000FF" stroke-width="6.7"/><text x="407.8" y="4056.8" font-size="52.9" class="mi" stroke="#000" stroke-width="1.40" stroke-linejoin="round" textLength="21.0" lengthAdjust="spacingAndGlyphs">δ</text><text x="428.1" y="4068.0" font-size="35.5" class="mi" stroke="#000" stroke-width="1.10" stroke-linejoin="round" textLength="24.7" lengthAdjust="spacingAndGlyphs">C</text><text x="473.2" y="4060.3" font-size="52.9" class="mr" stroke="#000" stroke-width="1.30" stroke-linejoin="round" textLength="43.3" lengthAdjust="spacingAndGlyphs">=</text><text x="513.0" y="4056.8" font-size="52.9" class="mr" stroke="#000" stroke-width="1.70" stroke-linejoin="round" textLength="71.6" lengthAdjust="spacingAndGlyphs">1.2</text><text x="583.0" y="4056.8" font-size="52.9" class="mr" stroke="#000" stroke-width="1.70" stroke-linejoin="round" textLength="15.6" lengthAdjust="spacingAndGlyphs">,</text><text x="615.8" y="4056.8" font-size="52.9" class="mi" stroke="#000" stroke-width="1.40" stroke-linejoin="round" textLength="20.6" lengthAdjust="spacingAndGlyphs">δ</text><text x="638.5" y="4068.0" font-size="35.5" class="mi" stroke="#000" stroke-width="1.10" stroke-linejoin="round" textLength="27.8" lengthAdjust="spacingAndGlyphs">B</text><text x="678.5" y="4068.8" font-size="77.0" class="mr" stroke="#000" stroke-width="1.00" stroke-linejoin="round" textLength="22.5" lengthAdjust="spacingAndGlyphs">/</text><text x="703.7" y="4056.8" font-size="52.9" class="mi" stroke="#000" stroke-width="1.40" stroke-linejoin="round" textLength="20.5" lengthAdjust="spacingAndGlyphs">δ</text><text x="724.1" y="4068.0" font-size="35.5" class="mi" stroke="#000" stroke-width="1.10" stroke-linejoin="round" textLength="24.2" lengthAdjust="spacingAndGlyphs">C</text><text x="768.7" y="4060.3" font-size="52.9" class="mr" stroke="#000" stroke-width="1.30" stroke-linejoin="round" textLength="41.6" lengthAdjust="spacingAndGlyphs">=</text><text x="808.6" y="4056.8" font-size="52.9" class="mr" stroke="#000" stroke-width="1.70" stroke-linejoin="round" textLength="67.5" lengthAdjust="spacingAndGlyphs">0.8</text><path d="M281.4,4091.0V4142.0" stroke="#80F5A8" stroke-width="7.2"/><path d="M274.4,4091.0h14.0M274.4,4142.0h14.0" stroke="#80F5A8" stroke-width="1.2"/><path d="M351.4,4091.0V4142.0" stroke="#80F5A8" stroke-width="7.2"/><path d="M344.4,4091.0h14.0M344.4,4142.0h14.0" stroke="#80F5A8" stroke-width="1.2"/><path d="M277.8,4116.5H355.0" stroke="#008000" stroke-width="6.7"/><text x="407.8" y="4135.1" font-size="52.9" class="mi" stroke="#000" stroke-width="1.40" stroke-linejoin="round" textLength="21.0" lengthAdjust="spacingAndGlyphs">δ</text><text x="428.1" y="4146.3" font-size="35.5" class="mi" stroke="#000" stroke-width="1.10" stroke-linejoin="round" textLength="24.7" lengthAdjust="spacingAndGlyphs">C</text><text x="473.2" y="4138.6" font-size="52.9" class="mr" stroke="#000" stroke-width="1.30" stroke-linejoin="round" textLength="43.3" lengthAdjust="spacingAndGlyphs">=</text><text x="515.6" y="4135.1" font-size="52.9" class="mr" stroke="#000" stroke-width="1.70" stroke-linejoin="round" textLength="67.9" lengthAdjust="spacingAndGlyphs">2.0</text><text x="583.0" y="4135.1" font-size="52.9" class="mr" stroke="#000" stroke-width="1.70" stroke-linejoin="round" textLength="15.6" lengthAdjust="spacingAndGlyphs">,</text><text x="615.8" y="4135.1" font-size="52.9" class="mi" stroke="#000" stroke-width="1.40" stroke-linejoin="round" textLength="20.6" lengthAdjust="spacingAndGlyphs">δ</text><text x="638.5" y="4146.3" font-size="35.5" class="mi" stroke="#000" stroke-width="1.10" stroke-linejoin="round" textLength="27.8" lengthAdjust="spacingAndGlyphs">B</text><text x="678.5" y="4147.1" font-size="77.0" class="mr" stroke="#000" stroke-width="1.00" stroke-linejoin="round" textLength="22.5" lengthAdjust="spacingAndGlyphs">/</text><text x="703.7" y="4135.1" font-size="52.9" class="mi" stroke="#000" stroke-width="1.40" stroke-linejoin="round" textLength="20.5" lengthAdjust="spacingAndGlyphs">δ</text><text x="724.1" y="4146.3" font-size="35.5" class="mi" stroke="#000" stroke-width="1.10" stroke-linejoin="round" textLength="24.2" lengthAdjust="spacingAndGlyphs">C</text><text x="768.7" y="4138.6" font-size="52.9" class="mr" stroke="#000" stroke-width="1.30" stroke-linejoin="round" textLength="41.6" lengthAdjust="spacingAndGlyphs">=</text><text x="808.6" y="4135.1" font-size="52.9" class="mr" stroke="#000" stroke-width="1.70" stroke-linejoin="round" textLength="67.6" lengthAdjust="spacingAndGlyphs">0.5</text>

<text class="mn" font-size="90" transform="translate(108.6,4307.1) rotate(-90)" x="-4.9" textLength="55.1" lengthAdjust="spacingAndGlyphs">&lt;</text><text class="mt" font-size="81" transform="translate(98.3,4251) rotate(-90)" x="4.2" textLength="47.3" lengthAdjust="spacingAndGlyphs">A</text><text class="mn" font-size="109" transform="translate(115.5,4181.2) rotate(-90)" x="-5.4" textLength="61.4" lengthAdjust="spacingAndGlyphs">+</text><text class="mt" font-size="81" transform="translate(98.3,4117.8) rotate(-90)" x="-4.8" textLength="57.9" lengthAdjust="spacingAndGlyphs">C</text><text class="mn" font-size="90" transform="translate(108.6,4047) rotate(-90)" x="-5.0" textLength="55.1" lengthAdjust="spacingAndGlyphs">&gt;</text>
<text class="lab" x="1043.4" y="4698.6" textLength="171.3" lengthAdjust="spacingAndGlyphs">time</text>
<text class="cap" x="1022.6" y="1098" font-weight="normal" textLength="22.8" lengthAdjust="spacingAndGlyphs">(</text><text class="cap" x="1047.5" y="1098" font-weight="bold" textLength="36.5" lengthAdjust="spacingAndGlyphs">a</text><text class="cap" x="1087.2" y="1098" font-weight="normal" textLength="22.8" lengthAdjust="spacingAndGlyphs">)</text><text class="cap" x="1017.8" y="2353.8" font-weight="normal" textLength="24.6" lengthAdjust="spacingAndGlyphs">(</text><text class="cap" x="1046.7" y="2353.8" font-weight="bold" textLength="41.4" lengthAdjust="spacingAndGlyphs">b</text><text class="cap" x="1090.2" y="2353.8" font-weight="normal" textLength="23.5" lengthAdjust="spacingAndGlyphs">)</text><text class="cap" x="1024.8" y="3579" font-weight="normal" textLength="22.8" lengthAdjust="spacingAndGlyphs">(</text><text class="cap" x="1049.4" y="3579" font-weight="bold" textLength="34.0" lengthAdjust="spacingAndGlyphs">c</text><text class="cap" x="1085.0" y="3579" font-weight="normal" textLength="22.8" lengthAdjust="spacingAndGlyphs">)</text><text class="cap" x="1017.9" y="4805.7" font-weight="normal" textLength="24.5" lengthAdjust="spacingAndGlyphs">(</text><text class="cap" x="1043.6" y="4805.7" font-weight="bold" textLength="42.2" lengthAdjust="spacingAndGlyphs">d</text><text class="cap" x="1090.2" y="4805.7" font-weight="normal" textLength="23.5" lengthAdjust="spacingAndGlyphs">)</text>
</svg></body></html>
